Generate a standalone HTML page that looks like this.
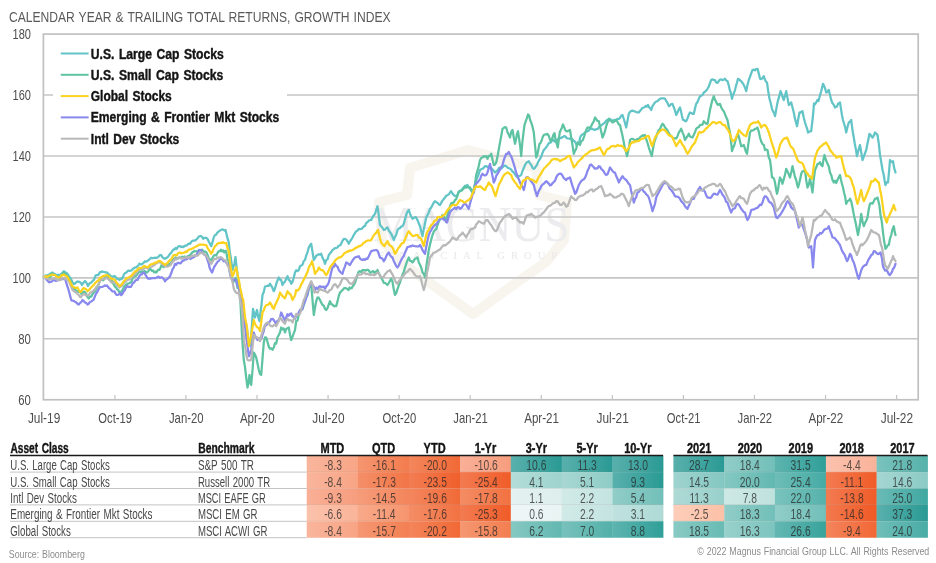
<!DOCTYPE html>
<html lang="en"><head><meta charset="utf-8"><title>Calendar Year &amp; Trailing Total Returns, Growth Index</title><style>html,body{margin:0;padding:0;background:#fff}svg{display:block;will-change:transform}</style></head><body>
<svg width="936" height="563" viewBox="0 0 936 563" font-family="&quot;Liberation Sans&quot;, sans-serif">
<rect width="936" height="563" fill="#fff"/>
<text x="8.90" y="21.50" font-size="14.5" fill="#5a5a5c" text-anchor="start" textLength="381.70" lengthAdjust="spacingAndGlyphs" word-spacing="0.8">CALENDAR YEAR &amp; TRAILING TOTAL RETURNS, GROWTH INDEX</text>
<g>
<path d="M468 150 L410 168 L407 195 L379 202 L382 240 L400 262 L430 283 L473 314 L516 283 L546 262 L564 240 L567 202 L539 195 L536 168 Z" fill="none" stroke="#f8f5ef" stroke-width="10" stroke-linejoin="round"/>
<text x="372.5" y="240.5" font-family="&quot;Liberation Serif&quot;, serif" font-size="50" fill="#ecebee" textLength="197" lengthAdjust="spacingAndGlyphs">MAGNUS</text>
<text x="378" y="259.3" font-family="&quot;Liberation Serif&quot;, serif" font-size="10.6" fill="#eae8ea" letter-spacing="6">FINANCIAL GROUP</text>
</g>
<line x1="43.4" x2="918.2" y1="338.81" y2="338.81" stroke="#c6c6c6" stroke-width="1.6"/>
<line x1="43.4" x2="918.2" y1="277.87" y2="277.87" stroke="#c6c6c6" stroke-width="1.6"/>
<line x1="43.4" x2="918.2" y1="216.93" y2="216.93" stroke="#c6c6c6" stroke-width="1.6"/>
<line x1="43.4" x2="918.2" y1="155.98" y2="155.98" stroke="#c6c6c6" stroke-width="1.6"/>
<line x1="43.4" x2="918.2" y1="95.04" y2="95.04" stroke="#c6c6c6" stroke-width="1.6"/>
<rect x="53" y="41" width="234" height="110" fill="#fff"/>
<path d="M43.8 276.2 L44.8 276.0 L45.9 275.4 L47.0 275.8 L48.1 275.0 L49.2 274.6 L50.3 273.5 L51.4 273.2 L52.5 272.5 L53.8 273.7 L55.0 274.1 L56.2 275.2 L57.5 275.5 L58.5 274.7 L59.6 275.1 L60.6 274.5 L61.7 273.8 L62.7 272.5 L63.8 271.2 L65.0 272.2 L66.2 272.7 L67.5 273.8 L68.5 275.5 L69.5 276.9 L70.5 278.2 L71.5 280.0 L72.6 282.4 L73.8 284.0 L75.0 283.6 L76.2 282.2 L77.5 281.5 L78.6 281.6 L79.8 282.2 L80.9 282.9 L82.0 285.0 L83.0 283.2 L84.0 282.0 L85.0 281.0 L86.0 282.2 L87.0 283.8 L88.0 286.0 L89.2 283.8 L90.3 282.8 L91.5 282.5 L92.6 280.8 L93.8 280.0 L94.6 278.4 L95.5 275.5 L96.6 275.2 L97.8 275.2 L98.9 274.1 L100.0 272.0 L101.1 272.0 L102.1 271.3 L103.2 271.9 L104.3 272.0 L105.4 272.3 L106.4 272.3 L107.5 273.0 L108.6 274.4 L109.6 274.7 L110.7 276.1 L111.8 276.5 L112.9 276.7 L113.9 276.1 L115.0 276.2 L116.1 277.7 L117.2 279.2 L118.4 279.1 L119.5 280.0 L120.6 278.7 L121.7 279.0 L122.8 277.4 L123.9 274.7 L125.0 273.0 L126.1 272.8 L127.2 271.5 L128.3 270.7 L129.4 270.9 L130.6 270.6 L131.7 270.3 L132.8 268.8 L133.9 268.3 L135.0 267.5 L136.1 267.3 L137.2 266.5 L138.3 265.5 L139.4 263.6 L140.6 264.3 L141.7 264.3 L142.8 263.6 L143.9 262.4 L145.0 261.2 L146.2 261.6 L147.5 260.9 L148.8 259.9 L150.0 258.8 L151.1 257.7 L152.1 258.2 L153.2 258.1 L154.3 257.9 L155.4 257.7 L156.4 257.9 L157.5 257.5 L158.8 256.3 L160.0 255.0 L161.2 255.1 L162.5 257.4 L163.8 258.4 L165.0 258.8 L166.2 258.0 L167.5 257.3 L168.8 255.6 L170.0 253.8 L171.1 252.9 L172.2 251.2 L173.3 249.5 L174.4 249.7 L175.6 248.0 L176.7 249.0 L177.8 247.0 L178.9 246.1 L180.0 246.2 L181.1 247.0 L182.2 246.6 L183.3 247.2 L184.4 246.1 L185.6 245.6 L186.7 245.5 L187.8 244.2 L188.9 243.7 L190.0 243.8 L191.1 242.1 L192.2 240.9 L193.3 240.6 L194.4 240.6 L195.6 240.1 L196.7 239.2 L197.8 237.9 L198.9 236.5 L200.0 236.2 L201.1 236.2 L202.1 236.9 L203.2 238.8 L204.3 237.9 L205.4 237.8 L206.4 237.9 L207.5 238.8 L208.8 241.7 L210.0 243.8 L211.2 246.2 L212.5 242.2 L213.8 237.3 L215.0 235.0 L216.2 234.6 L217.5 232.4 L218.8 231.5 L220.0 230.5 L221.1 229.9 L222.2 229.4 L223.3 229.5 L224.4 230.5 L225.5 230.0 L226.6 234.4 L227.7 238.9 L228.8 242.5 L229.8 252.1 L230.8 257.5 L231.6 263.7 L232.5 270.0 L233.5 266.6 L234.5 263.3 L235.5 257.0 L236.5 266.8 L237.5 273.8 L238.0 280.0 L239.1 283.3 L240.2 290.3 L241.4 296.4 L242.5 302.5 L243.5 310.5 L244.5 320.0 L245.5 321.8 L246.5 325.5 L247.6 333.8 L248.8 342.5 L249.6 343.0 L250.5 346.2 L251.8 326.9 L253.0 308.8 L254.0 312.9 L255.0 317.5 L256.0 313.3 L257.0 310.0 L258.2 317.0 L259.5 321.2 L260.5 312.4 L261.5 304.6 L262.5 295.0 L263.8 292.0 L265.0 286.6 L266.2 286.2 L267.5 285.7 L268.8 286.0 L270.0 283.8 L271.2 285.6 L272.5 288.1 L273.8 291.2 L275.0 288.3 L276.2 284.2 L277.5 280.4 L278.8 277.5 L280.0 279.6 L281.2 280.1 L282.5 285.0 L283.8 282.6 L285.0 281.6 L286.2 278.7 L287.5 276.2 L288.8 280.1 L290.0 280.5 L291.2 283.8 L292.5 281.8 L293.8 277.5 L295.0 272.5 L296.2 270.3 L297.5 271.2 L298.8 270.0 L300.0 266.2 L301.2 265.6 L302.5 264.7 L303.8 261.0 L305.0 260.0 L306.2 255.6 L307.5 252.1 L308.8 247.5 L310.0 245.2 L311.2 243.8 L312.5 251.8 L313.8 260.0 L315.0 258.2 L316.2 255.8 L317.5 255.0 L318.8 254.2 L320.0 254.6 L321.2 253.8 L322.5 257.8 L323.8 260.1 L325.0 263.8 L326.2 260.1 L327.5 259.3 L328.8 255.0 L330.0 253.4 L331.2 252.1 L332.5 250.0 L333.8 249.1 L335.0 248.1 L336.2 248.0 L337.5 247.5 L338.5 245.9 L339.6 245.5 L340.6 244.9 L341.7 242.6 L342.7 240.6 L343.8 238.8 L345.0 238.9 L346.2 239.6 L347.5 241.3 L348.8 243.8 L350.0 241.3 L351.2 239.7 L352.5 237.5 L353.8 235.0 L355.0 233.0 L356.2 231.3 L357.5 230.6 L358.8 228.8 L359.8 229.2 L360.8 229.0 L361.9 228.6 L362.9 227.7 L364.0 226.1 L365.0 226.2 L366.0 223.3 L367.1 222.3 L368.1 221.6 L369.2 220.3 L370.2 220.2 L371.2 220.0 L372.5 217.2 L373.8 215.4 L375.0 213.8 L376.2 210.0 L377.5 206.2 L378.8 215.6 L380.0 225.0 L381.2 226.3 L382.5 227.9 L383.8 230.0 L385.0 229.6 L386.2 228.1 L387.5 227.5 L388.8 230.5 L390.0 232.1 L391.2 233.8 L392.5 236.7 L393.8 240.0 L395.0 236.9 L396.2 234.8 L397.5 230.0 L398.8 228.6 L400.0 228.0 L401.2 226.6 L402.5 226.2 L403.8 223.7 L405.0 219.2 L406.2 215.0 L407.5 211.7 L408.8 210.0 L410.0 213.7 L411.2 216.5 L412.5 218.8 L413.8 217.9 L415.0 217.2 L416.2 217.5 L417.5 220.2 L418.8 223.4 L420.0 226.2 L421.2 231.0 L422.5 236.2 L423.8 228.9 L425.0 223.4 L426.2 217.5 L427.5 215.1 L428.8 212.4 L430.0 208.8 L431.2 207.6 L432.5 205.0 L433.8 202.5 L435.0 201.2 L436.2 202.2 L437.5 202.8 L438.8 204.4 L440.0 205.0 L441.2 202.9 L442.5 200.6 L443.8 199.0 L445.0 197.5 L446.2 195.8 L447.5 195.2 L448.8 194.3 L450.0 192.5 L451.0 191.2 L452.1 192.8 L453.1 194.3 L454.2 195.5 L455.2 195.8 L456.2 196.2 L457.3 195.9 L458.3 192.5 L459.4 191.0 L460.4 190.5 L461.5 190.2 L462.5 188.8 L463.8 187.3 L465.0 185.9 L466.2 185.7 L467.5 185.0 L468.8 187.2 L470.0 188.6 L471.2 190.7 L472.5 192.5 L473.8 188.5 L475.0 184.2 L476.2 180.0 L477.5 177.1 L478.8 173.9 L480.0 170.0 L481.2 169.3 L482.5 168.8 L483.8 167.6 L485.0 166.2 L486.2 166.1 L487.5 167.1 L488.8 166.6 L490.0 167.5 L491.2 168.0 L492.5 169.5 L493.8 171.0 L495.0 172.5 L496.2 171.5 L497.5 170.5 L498.8 168.3 L500.0 167.5 L501.0 168.5 L502.1 167.8 L503.1 166.7 L504.2 165.6 L505.2 165.7 L506.2 166.2 L507.5 167.6 L508.8 168.1 L510.0 168.8 L511.2 169.6 L512.5 171.5 L513.8 172.5 L515.0 174.3 L516.2 176.0 L517.5 177.5 L518.8 176.1 L520.0 175.7 L521.2 175.0 L522.5 171.0 L523.8 168.0 L525.0 165.0 L526.2 163.0 L527.5 161.9 L528.8 161.2 L530.0 163.5 L531.2 164.8 L532.5 167.8 L533.8 168.8 L534.9 167.9 L536.0 166.2 L537.0 164.9 L538.1 162.0 L539.2 160.2 L540.4 158.3 L541.5 156.0 L542.6 152.7 L543.8 150.0 L544.9 148.9 L546.0 147.5 L547.2 145.9 L548.4 143.9 L549.5 142.5 L550.8 142.5 L552.0 140.7 L553.2 139.8 L554.3 141.2 L555.4 141.7 L556.4 141.4 L557.5 139.5 L558.7 138.4 L559.9 138.1 L561.1 138.2 L562.2 137.2 L563.3 136.7 L564.4 136.1 L565.5 136.5 L566.6 138.0 L567.7 138.4 L568.8 138.5 L570.0 138.9 L571.2 138.3 L572.5 139.5 L573.5 140.9 L574.5 141.1 L575.5 142.6 L576.5 145.0 L577.5 143.7 L578.5 142.4 L579.5 141.5 L580.0 137.5 L581.2 135.5 L582.5 134.4 L583.8 133.6 L585.0 132.5 L586.2 131.3 L587.5 131.3 L588.8 130.6 L590.0 128.8 L591.2 128.6 L592.5 128.9 L593.8 129.7 L595.0 130.0 L596.2 129.0 L597.5 129.2 L598.8 127.4 L600.0 126.2 L601.2 125.3 L602.5 124.3 L603.8 123.4 L605.0 122.5 L606.2 120.5 L607.5 120.1 L608.8 118.8 L610.0 119.1 L611.2 119.8 L612.5 121.2 L613.8 120.2 L615.0 119.9 L616.2 120.2 L617.5 118.8 L618.8 119.0 L620.0 117.9 L621.2 115.7 L622.5 115.0 L623.8 119.0 L625.0 123.0 L626.2 127.5 L627.5 120.9 L628.8 113.8 L630.0 111.9 L631.2 111.0 L632.5 110.6 L633.8 111.2 L635.0 111.5 L636.2 112.1 L637.5 112.3 L638.8 112.5 L640.0 110.9 L641.2 109.5 L642.5 107.9 L643.8 107.5 L644.8 107.0 L645.9 105.8 L646.9 106.5 L648.0 105.0 L649.1 107.2 L650.2 108.3 L651.2 110.0 L652.5 106.2 L653.8 104.1 L655.0 102.5 L656.2 101.5 L657.5 101.2 L658.8 99.8 L660.0 98.8 L661.2 98.4 L662.5 98.3 L663.8 98.3 L665.0 98.8 L666.2 100.9 L667.5 102.9 L668.8 106.2 L670.0 105.4 L671.2 104.0 L672.5 103.8 L673.8 107.4 L675.0 110.6 L676.2 115.0 L677.5 112.5 L678.8 109.4 L680.0 107.5 L681.0 111.4 L682.0 116.1 L683.0 120.0 L684.1 120.1 L685.2 121.2 L686.2 121.2 L687.5 118.4 L688.8 114.8 L690.0 112.5 L691.2 113.1 L692.5 113.8 L693.8 113.8 L695.0 108.4 L696.2 103.8 L697.5 102.0 L698.8 98.9 L700.0 96.2 L701.2 95.8 L702.5 95.0 L703.8 92.5 L705.0 91.7 L706.2 90.7 L707.5 88.8 L708.8 86.5 L710.0 83.2 L711.2 80.0 L712.5 79.3 L713.8 80.0 L715.0 80.2 L716.2 82.5 L717.5 82.9 L718.8 81.0 L720.0 79.5 L721.2 79.4 L722.5 80.2 L723.8 79.6 L725.0 78.8 L726.2 80.4 L727.5 81.2 L728.5 84.5 L729.5 88.8 L730.8 92.8 L732.0 98.8 L733.0 95.3 L734.0 93.0 L735.0 90.0 L736.0 85.9 L737.0 82.6 L738.0 78.8 L739.1 79.4 L740.2 80.5 L741.2 81.2 L742.5 82.9 L743.8 85.0 L745.0 87.6 L746.2 91.2 L747.5 85.0 L748.8 80.0 L750.0 76.8 L751.2 73.4 L752.5 70.0 L753.8 69.6 L755.0 70.4 L756.2 69.1 L757.5 68.8 L758.8 73.6 L760.0 78.8 L761.2 79.2 L762.5 78.1 L763.8 76.2 L764.8 79.2 L765.9 81.6 L767.0 82.5 L768.2 91.1 L769.5 98.8 L770.8 103.5 L772.0 108.8 L773.0 111.4 L774.0 112.8 L775.0 116.2 L776.2 109.5 L777.5 102.5 L778.5 98.6 L779.5 95.3 L780.5 91.2 L781.6 93.8 L782.7 97.4 L783.8 100.0 L785.0 95.5 L786.2 91.2 L787.5 97.9 L788.8 105.0 L790.0 104.1 L791.2 102.5 L792.5 107.5 L793.8 112.5 L794.8 118.1 L795.9 121.9 L797.0 126.2 L798.2 119.2 L799.5 112.5 L800.5 112.6 L801.5 111.6 L802.5 111.2 L803.8 117.8 L805.0 122.5 L806.0 125.6 L807.0 128.3 L808.0 132.5 L809.1 131.9 L810.2 131.3 L811.2 131.2 L812.8 117.5 L814.0 103.5 L815.1 104.2 L816.2 102.4 L817.4 100.0 L818.5 101.0 L819.9 95.6 L821.2 91.2 L822.1 87.5 L823.0 83.8 L824.1 86.0 L825.2 88.7 L826.2 92.5 L827.5 91.9 L828.8 90.0 L830.0 95.1 L831.2 100.0 L832.5 103.3 L833.8 104.9 L835.0 107.5 L836.0 106.7 L837.0 106.6 L838.0 103.8 L839.0 103.2 L840.0 102.5 L841.0 108.9 L842.0 115.4 L843.0 120.0 L844.1 123.7 L845.2 127.5 L846.2 132.5 L847.5 126.9 L848.8 122.5 L850.0 121.6 L851.2 120.0 L852.5 130.3 L853.8 137.5 L854.8 144.0 L855.9 149.4 L857.0 156.2 L858.0 152.1 L859.0 148.3 L860.0 145.0 L861.2 152.1 L862.5 160.0 L863.8 156.7 L865.0 153.3 L866.2 150.0 L867.3 144.5 L868.4 139.2 L869.5 133.8 L870.5 135.1 L871.5 136.1 L872.5 137.5 L873.8 135.6 L875.0 132.5 L876.2 133.5 L877.5 135.0 L878.8 143.6 L880.0 155.0 L881.2 161.7 L882.5 170.0 L883.8 175.0 L884.6 180.7 L885.5 185.0 L886.8 182.1 L888.0 182.5 L889.0 172.2 L890.0 160.0 L891.0 161.5 L892.0 162.0 L893.0 161.2 L894.2 168.1 L895.5 172.5" fill="none" stroke="#62c4c6" stroke-width="2.25" stroke-linejoin="round" stroke-linecap="round"/>
<path d="M43.8 277.0 L44.8 276.8 L45.9 277.1 L47.0 278.3 L48.1 277.9 L49.2 278.0 L50.3 276.5 L51.4 275.4 L52.5 273.8 L53.8 274.8 L55.0 275.0 L56.2 275.9 L57.5 277.0 L58.5 277.0 L59.6 277.7 L60.6 276.3 L61.7 274.8 L62.7 274.0 L63.8 273.0 L65.0 273.5 L66.2 275.3 L67.5 276.2 L68.8 278.0 L70.0 280.0 L71.2 284.4 L72.5 287.5 L73.8 288.9 L75.0 289.4 L76.2 290.7 L77.5 291.2 L78.8 291.9 L80.0 291.3 L81.2 293.8 L82.5 292.7 L83.8 291.7 L85.0 292.0 L86.2 294.1 L87.5 297.0 L88.8 298.5 L90.0 296.6 L91.2 296.6 L92.5 294.2 L93.8 292.5 L94.9 291.2 L96.0 289.3 L97.1 287.2 L98.2 286.0 L99.5 281.2 L100.8 279.0 L101.9 279.7 L103.1 280.3 L104.3 279.2 L105.5 277.0 L106.7 276.9 L107.8 277.3 L109.0 279.1 L110.2 280.3 L111.3 280.7 L112.5 281.2 L113.7 284.5 L114.8 286.3 L116.0 287.4 L117.2 289.3 L118.3 290.2 L119.5 292.5 L120.5 291.8 L121.5 292.1 L122.5 290.0 L123.8 287.6 L125.0 285.4 L126.2 284.8 L127.5 283.8 L128.6 283.4 L129.6 283.0 L130.7 282.4 L131.8 281.1 L132.9 277.4 L133.9 277.1 L135.0 276.2 L136.1 275.8 L137.1 274.6 L138.2 273.1 L139.3 271.1 L140.4 271.9 L141.4 272.2 L142.5 271.2 L143.6 272.3 L144.6 271.0 L145.7 271.9 L146.8 272.5 L147.9 271.7 L148.9 270.3 L150.0 268.8 L151.0 269.7 L152.1 271.0 L153.1 270.5 L154.2 272.3 L155.2 271.7 L156.2 272.5 L157.3 271.0 L158.3 269.6 L159.4 269.9 L160.4 268.0 L161.5 265.1 L162.5 266.2 L163.6 267.1 L164.6 266.1 L165.7 265.4 L166.8 265.2 L167.9 264.9 L168.9 263.8 L170.0 263.8 L171.1 262.5 L172.2 261.3 L173.3 258.9 L174.4 259.1 L175.6 257.4 L176.7 258.8 L177.8 258.6 L178.9 257.5 L180.0 257.5 L181.1 257.7 L182.2 256.6 L183.3 257.5 L184.4 256.5 L185.6 256.9 L186.7 257.6 L187.8 256.0 L188.9 255.8 L190.0 255.0 L191.1 254.0 L192.2 252.5 L193.3 251.8 L194.4 251.0 L195.6 251.3 L196.7 251.4 L197.8 251.3 L198.9 249.9 L200.0 250.0 L201.1 250.0 L202.1 249.7 L203.2 251.1 L204.3 251.6 L205.4 251.7 L206.4 252.4 L207.5 255.0 L208.8 258.3 L210.0 259.7 L211.2 260.0 L212.5 258.2 L213.8 255.5 L215.0 255.0 L216.2 255.5 L217.5 252.9 L218.8 251.2 L220.0 251.2 L221.0 249.7 L222.1 251.4 L223.1 250.4 L224.2 252.5 L225.2 250.9 L226.2 251.2 L227.5 259.3 L228.8 261.2 L230.0 269.7 L231.2 275.0 L232.5 281.2 L233.5 282.1 L234.5 280.4 L235.5 278.0 L236.5 282.0 L237.5 288.0 L238.8 288.1 L240.0 293.0 L241.0 313.9 L242.0 335.0 L242.9 348.4 L243.8 360.0 L245.0 367.0 L246.2 377.5 L247.5 387.5 L248.5 382.8 L249.5 375.0 L250.4 382.6 L251.2 385.0 L252.5 370.5 L253.8 352.5 L255.0 354.6 L256.2 357.5 L257.5 363.5 L258.8 370.0 L260.0 373.9 L261.2 375.0 L262.5 358.6 L263.8 342.5 L265.0 337.3 L266.2 337.5 L267.5 342.0 L268.8 346.6 L270.0 348.8 L271.2 348.3 L272.5 349.8 L273.8 347.5 L275.0 343.1 L276.2 343.7 L277.5 337.3 L278.8 335.0 L280.0 332.6 L281.2 327.5 L282.5 329.3 L283.8 328.5 L285.0 332.5 L286.2 328.9 L287.5 328.3 L288.8 327.5 L290.0 334.5 L291.2 340.0 L292.5 336.9 L293.8 333.1 L295.0 330.0 L296.2 321.0 L297.5 320.6 L298.8 315.0 L300.0 311.7 L301.2 310.3 L302.5 308.9 L303.8 305.0 L305.0 300.7 L306.2 297.7 L307.5 295.0 L308.8 288.6 L310.0 286.0 L311.2 283.8 L312.5 299.9 L313.8 315.0 L315.0 307.7 L316.2 301.2 L317.5 297.5 L318.8 297.7 L320.0 300.1 L321.2 302.5 L322.5 305.0 L323.8 305.7 L325.0 308.9 L326.2 310.0 L327.5 308.2 L328.8 304.4 L330.0 301.2 L331.0 304.0 L332.1 304.3 L333.1 305.4 L334.2 306.4 L335.2 305.8 L336.2 306.2 L337.5 301.4 L338.8 295.8 L340.0 292.5 L341.1 291.7 L342.1 290.3 L343.2 289.3 L344.3 288.0 L345.4 288.0 L346.4 288.6 L347.5 288.8 L348.5 290.1 L349.6 287.5 L350.6 288.4 L351.7 288.2 L352.7 286.3 L353.8 285.0 L355.0 282.9 L356.2 279.1 L357.5 275.0 L358.8 271.5 L360.0 271.2 L361.2 272.2 L362.5 270.0 L363.6 270.2 L364.6 270.1 L365.7 270.7 L366.8 269.8 L367.9 269.8 L368.9 270.7 L370.0 272.5 L371.1 272.5 L372.1 271.5 L373.2 271.1 L374.3 272.7 L375.4 271.7 L376.4 272.5 L377.5 270.0 L378.8 273.3 L380.0 275.5 L381.2 277.4 L382.5 280.0 L383.8 282.8 L385.0 283.0 L386.2 283.7 L387.5 285.0 L388.8 283.0 L390.0 280.7 L391.2 278.8 L392.5 281.8 L393.8 289.6 L395.0 295.0 L396.2 293.2 L397.5 289.1 L398.8 285.3 L400.0 282.5 L401.2 278.7 L402.5 274.5 L403.8 271.9 L405.0 267.5 L406.2 263.8 L407.5 260.2 L408.8 257.5 L410.0 260.8 L411.2 261.0 L412.5 262.5 L413.8 260.8 L415.0 258.6 L416.2 258.5 L417.5 257.5 L418.8 262.5 L420.0 264.8 L421.2 267.5 L422.5 272.4 L423.8 274.0 L425.0 277.5 L426.2 267.6 L427.5 258.5 L428.8 250.0 L430.0 244.4 L431.2 239.7 L432.5 235.0 L433.8 231.6 L435.0 229.9 L436.2 229.2 L437.5 225.0 L438.8 221.5 L440.0 219.4 L441.2 217.4 L442.5 215.0 L443.8 216.4 L445.0 219.4 L446.2 220.0 L447.5 214.8 L448.8 210.3 L450.0 206.2 L451.2 203.4 L452.5 202.9 L453.8 202.4 L455.0 200.0 L456.2 199.1 L457.5 194.9 L458.8 192.0 L460.0 191.2 L461.2 190.8 L462.5 189.8 L463.8 188.4 L465.0 186.2 L466.2 187.7 L467.5 187.0 L468.8 187.6 L470.0 187.5 L471.2 189.6 L472.5 190.8 L473.8 192.5 L475.0 184.0 L476.2 175.0 L477.5 170.7 L478.8 165.8 L480.0 160.0 L481.2 158.2 L482.5 157.3 L483.8 156.2 L485.0 156.7 L486.2 156.1 L487.5 158.8 L488.8 155.8 L490.0 155.9 L491.2 153.8 L492.5 159.4 L493.8 165.0 L495.0 164.6 L496.2 162.5 L497.5 156.6 L498.8 149.4 L500.0 142.5 L501.2 136.2 L502.5 128.8 L503.8 127.8 L505.0 127.1 L506.2 127.5 L507.5 132.3 L508.8 134.8 L510.0 137.5 L511.2 131.8 L512.5 130.0 L513.8 137.5 L515.0 143.8 L516.0 139.4 L517.0 133.8 L518.0 131.2 L519.1 138.8 L520.2 146.4 L521.2 156.2 L522.3 142.8 L523.4 133.4 L524.5 125.0 L525.7 121.4 L526.8 118.3 L528.0 114.5 L529.1 115.6 L530.2 120.2 L531.2 122.5 L532.5 126.7 L533.8 132.5 L535.0 145.3 L536.2 157.5 L537.3 154.7 L538.4 149.5 L539.5 143.8 L540.6 142.9 L541.6 140.7 L542.7 137.0 L543.8 135.0 L545.0 134.4 L546.2 134.5 L547.5 133.8 L548.8 135.8 L550.0 139.8 L551.2 141.2 L552.3 138.2 L553.4 134.9 L554.5 133.2 L555.6 140.0 L556.7 143.8 L557.8 147.5 L558.8 139.5 L559.8 132.0 L560.8 130.0 L561.9 127.6 L563.0 124.5 L564.1 127.2 L565.2 129.9 L566.2 131.2 L567.5 131.3 L568.8 130.6 L570.0 130.0 L571.2 137.5 L572.5 145.3 L573.8 153.8 L575.0 150.9 L576.2 148.7 L577.5 142.5 L578.8 144.0 L580.0 145.0 L581.2 141.2 L582.5 140.6 L583.8 137.5 L585.0 133.9 L586.2 130.0 L587.5 127.5 L588.8 127.6 L590.0 127.9 L591.2 126.2 L592.5 123.3 L593.8 121.3 L595.0 117.5 L596.2 119.2 L597.5 121.0 L598.8 121.2 L600.0 126.4 L601.2 131.5 L602.5 137.5 L603.8 134.6 L605.0 131.2 L606.2 126.2 L607.5 122.6 L608.8 118.8 L610.0 120.5 L611.2 121.0 L612.5 122.5 L613.8 121.8 L615.0 120.9 L616.2 120.0 L617.5 122.0 L618.8 124.4 L620.0 125.0 L621.2 130.3 L622.5 135.8 L623.8 142.5 L624.8 148.1 L625.9 151.5 L627.0 156.2 L628.0 151.9 L629.0 147.3 L630.0 140.0 L631.2 139.0 L632.5 138.8 L633.8 139.5 L635.0 140.0 L636.2 140.0 L637.5 139.0 L638.8 139.0 L640.0 137.5 L641.2 136.3 L642.5 135.4 L643.8 135.8 L645.0 135.0 L646.2 139.1 L647.5 142.8 L648.8 147.5 L649.8 150.6 L650.8 153.4 L651.8 156.2 L652.8 149.8 L653.9 143.6 L655.0 140.0 L656.2 136.9 L657.5 133.0 L658.8 130.0 L660.0 129.1 L661.2 126.0 L662.5 123.8 L663.8 125.1 L665.0 127.5 L666.2 128.8 L667.5 130.5 L668.8 133.2 L670.0 135.0 L671.2 136.1 L672.5 137.5 L673.8 138.8 L675.0 138.2 L676.2 138.5 L677.5 136.2 L678.8 132.5 L680.0 130.8 L681.2 128.8 L682.5 132.4 L683.8 135.4 L685.0 140.0 L686.2 138.0 L687.5 136.2 L688.8 133.8 L690.0 136.5 L691.2 137.0 L692.5 137.5 L693.8 134.8 L695.0 132.1 L696.2 128.8 L697.5 127.5 L698.8 127.1 L700.0 125.0 L701.2 124.8 L702.5 124.6 L703.8 121.2 L705.0 122.6 L706.2 123.6 L707.5 123.8 L708.8 116.9 L710.0 110.0 L711.2 104.7 L712.5 99.6 L713.8 96.2 L714.8 99.4 L715.9 101.3 L717.0 103.8 L718.0 104.9 L719.0 104.2 L720.0 103.8 L721.2 107.2 L722.5 109.7 L723.8 111.2 L725.0 114.2 L726.2 117.3 L727.5 120.0 L728.8 127.2 L730.0 132.5 L731.0 141.5 L732.0 151.2 L733.0 148.0 L734.0 146.1 L735.0 142.5 L736.0 138.8 L737.0 136.6 L738.0 133.8 L739.1 137.5 L740.2 142.2 L741.2 146.2 L742.5 145.9 L743.8 145.0 L744.8 148.2 L745.9 151.6 L747.0 153.8 L748.0 146.3 L749.0 139.6 L750.0 132.5 L751.2 130.5 L752.5 130.6 L753.8 130.0 L755.0 128.8 L756.2 128.6 L757.5 127.5 L758.8 131.8 L760.0 137.5 L761.2 141.5 L762.5 144.1 L763.8 145.0 L765.0 150.1 L766.2 149.5 L767.5 150.0 L768.8 157.5 L770.0 160.0 L771.0 167.6 L772.0 177.5 L773.0 177.6 L774.0 178.7 L775.0 182.5 L776.0 188.9 L777.0 193.8 L778.0 189.8 L779.0 182.5 L780.0 177.5 L781.2 179.6 L782.5 183.8 L783.8 179.1 L785.0 174.9 L786.2 168.8 L787.5 171.5 L788.8 174.3 L790.0 177.5 L791.2 172.5 L792.5 166.2 L793.8 171.7 L795.0 177.0 L796.2 180.0 L797.1 184.4 L798.0 187.5 L799.1 183.6 L800.2 179.1 L801.2 173.8 L802.5 171.4 L803.8 171.0 L805.0 170.0 L806.2 180.1 L807.5 187.5 L808.8 184.4 L810.0 178.8 L811.2 184.8 L812.5 192.5 L813.8 178.9 L815.0 170.0 L816.2 167.6 L817.5 163.9 L818.8 163.8 L820.0 162.2 L821.2 165.1 L822.5 166.2 L823.5 159.2 L824.5 155.0 L825.6 159.2 L826.7 161.8 L827.8 164.3 L828.9 166.8 L830.0 172.5 L831.2 174.9 L832.5 180.0 L833.8 182.5 L835.0 180.6 L836.2 183.1 L837.5 180.0 L838.8 177.3 L840.0 175.0 L841.0 179.8 L842.0 184.0 L843.0 187.5 L844.1 192.7 L845.2 197.1 L846.2 203.8 L847.5 201.2 L848.8 200.6 L850.0 198.8 L851.2 201.2 L852.5 207.5 L853.8 214.4 L855.0 220.0 L856.0 224.5 L857.0 230.0 L858.0 235.0 L859.1 229.1 L860.2 222.5 L861.2 213.8 L862.5 221.2 L863.8 226.2 L865.0 223.0 L866.2 220.8 L867.5 217.5 L868.8 209.0 L870.0 203.8 L871.2 203.1 L872.5 203.6 L873.8 201.2 L875.0 198.6 L876.2 198.7 L877.5 197.5 L878.5 201.6 L879.5 206.1 L880.5 215.0 L881.8 221.6 L883.0 232.5 L884.2 241.6 L885.5 248.8 L886.6 247.6 L887.7 245.3 L888.8 245.0 L890.0 238.6 L891.2 235.0 L892.5 229.5 L893.8 226.2 L894.6 230.9 L895.5 235.0" fill="none" stroke="#5ec3a2" stroke-width="2.25" stroke-linejoin="round" stroke-linecap="round"/>
<path d="M43.8 278.0 L44.8 278.1 L45.8 278.0 L46.9 280.1 L47.9 281.0 L49.0 282.3 L50.0 282.0 L51.1 281.8 L52.1 281.2 L53.2 280.3 L54.3 279.4 L55.4 280.8 L56.4 280.9 L57.5 280.0 L58.6 280.1 L59.6 279.7 L60.7 279.1 L61.8 278.8 L62.9 279.1 L63.9 278.1 L65.0 278.8 L66.0 281.8 L67.1 285.3 L68.1 288.4 L69.2 292.2 L70.2 296.1 L71.2 300.0 L72.3 300.7 L73.4 300.7 L74.5 301.4 L75.5 301.9 L76.6 302.8 L77.7 304.1 L78.8 304.5 L80.0 302.9 L81.2 302.2 L82.5 300.0 L83.8 301.1 L85.0 302.5 L86.2 302.9 L87.5 304.5 L88.5 304.0 L89.6 302.4 L90.6 301.7 L91.7 301.3 L92.7 300.3 L93.8 299.5 L95.0 296.1 L96.2 293.4 L97.5 291.5 L98.8 288.8 L100.0 287.0 L101.2 287.0 L102.5 286.8 L103.8 286.2 L104.8 285.5 L105.9 285.9 L107.0 285.4 L108.0 286.8 L109.1 288.2 L110.2 289.0 L111.2 290.0 L112.3 291.4 L113.3 291.5 L114.4 291.3 L115.4 293.4 L116.5 294.9 L117.5 295.0 L118.8 294.5 L120.0 293.2 L121.2 295.1 L122.5 293.8 L123.8 291.3 L125.0 289.9 L126.2 287.3 L127.5 286.2 L128.6 287.0 L129.7 286.9 L130.8 286.8 L131.9 285.0 L133.1 282.9 L134.2 282.4 L135.3 280.7 L136.4 279.9 L137.5 280.0 L138.5 277.8 L139.6 275.9 L140.6 274.4 L141.7 274.5 L142.7 273.1 L143.8 272.5 L144.8 273.7 L145.8 275.3 L146.9 277.3 L147.9 278.6 L149.0 278.3 L150.0 278.8 L151.1 278.4 L152.1 278.2 L153.2 278.1 L154.3 278.0 L155.4 278.2 L156.4 277.8 L157.5 277.0 L158.6 276.7 L159.6 277.9 L160.7 277.5 L161.8 277.2 L162.9 278.3 L163.9 279.3 L165.0 281.2 L166.2 279.8 L167.5 278.8 L168.8 277.7 L170.0 276.2 L171.2 273.3 L172.5 269.4 L173.8 267.3 L175.0 263.8 L176.1 265.0 L177.2 263.3 L178.3 262.7 L179.4 263.1 L180.6 263.4 L181.7 261.8 L182.8 260.5 L183.9 260.5 L185.0 258.8 L186.1 259.6 L187.1 259.1 L188.2 257.9 L189.3 258.0 L190.4 259.0 L191.4 258.2 L192.5 257.5 L193.6 257.3 L194.6 256.5 L195.7 255.5 L196.8 254.5 L197.9 252.3 L198.9 250.9 L200.0 250.0 L201.0 250.3 L202.1 251.9 L203.1 253.1 L204.2 254.7 L205.2 255.0 L206.2 256.2 L207.4 259.8 L208.6 263.1 L209.7 268.0 L210.8 270.2 L212.0 272.5 L213.1 270.0 L214.1 267.0 L215.2 265.5 L216.2 263.8 L217.5 261.8 L218.8 260.9 L220.0 259.2 L221.2 258.8 L222.5 259.6 L223.8 261.3 L225.0 260.9 L226.2 262.5 L227.5 264.1 L228.8 265.1 L230.0 273.8 L231.2 278.0 L232.5 280.0 L233.8 279.8 L235.0 279.5 L236.2 280.5 L237.3 284.9 L238.4 286.5 L239.5 290.0 L240.7 294.3 L241.8 300.4 L243.0 307.5 L244.2 319.6 L245.5 330.0 L246.6 339.6 L247.7 347.6 L248.8 356.2 L250.0 353.4 L251.2 350.0 L252.5 342.6 L253.8 332.5 L255.0 336.0 L256.2 337.2 L257.5 340.0 L258.8 338.2 L260.0 338.1 L261.2 338.8 L262.5 334.7 L263.8 330.8 L265.0 325.0 L266.2 325.4 L267.5 323.1 L268.8 322.5 L270.0 321.5 L271.2 319.1 L272.5 318.8 L273.8 320.1 L275.0 322.1 L276.2 323.8 L277.5 320.6 L278.8 320.6 L280.0 317.1 L281.2 312.5 L282.5 315.4 L283.8 318.2 L285.0 320.7 L286.2 317.5 L287.5 314.2 L288.8 315.7 L290.0 313.8 L291.2 313.5 L292.5 316.5 L293.8 316.4 L295.0 318.8 L296.2 315.8 L297.5 315.1 L298.8 312.5 L300.0 309.9 L301.2 310.2 L302.5 308.8 L303.8 303.6 L305.0 301.8 L306.2 297.5 L307.5 293.8 L308.8 288.4 L310.0 285.5 L311.2 282.5 L312.5 284.8 L313.8 286.7 L315.0 290.0 L316.2 287.8 L317.5 288.9 L318.8 287.0 L320.0 286.2 L321.2 287.2 L322.5 286.8 L323.8 286.6 L325.0 288.8 L326.2 286.4 L327.5 285.1 L328.8 282.5 L330.0 277.4 L331.2 272.1 L332.5 267.5 L333.8 266.7 L335.0 263.8 L336.2 265.9 L337.5 266.7 L338.8 270.0 L340.0 271.6 L341.2 272.9 L342.5 273.8 L343.8 269.3 L345.0 266.3 L346.2 262.5 L347.5 263.0 L348.8 264.3 L350.0 265.0 L351.2 262.7 L352.5 260.7 L353.8 258.6 L355.0 257.5 L356.2 256.9 L357.5 256.8 L358.8 256.2 L360.0 258.6 L361.2 259.5 L362.5 260.0 L363.8 259.2 L365.0 259.9 L366.2 258.6 L367.5 258.8 L368.8 256.3 L370.0 253.6 L371.2 251.2 L372.5 250.8 L373.8 250.3 L375.0 250.2 L376.2 250.0 L377.5 250.7 L378.8 254.2 L380.0 257.5 L381.2 258.0 L382.5 258.8 L383.8 261.2 L385.0 259.3 L386.2 256.3 L387.5 253.9 L388.8 252.5 L390.0 255.1 L391.2 256.6 L392.5 257.5 L393.8 261.2 L395.0 263.5 L396.2 266.0 L397.5 267.5 L398.8 265.5 L400.0 262.6 L401.2 260.0 L402.5 257.7 L403.8 255.8 L405.0 252.6 L406.2 250.0 L407.5 247.0 L408.8 246.8 L410.0 246.2 L411.2 246.4 L412.5 245.4 L413.8 246.0 L415.0 246.2 L416.2 246.3 L417.5 246.3 L418.8 246.5 L420.0 245.0 L421.2 246.9 L422.5 250.1 L423.8 252.2 L425.0 253.8 L426.2 247.1 L427.5 240.6 L428.8 235.0 L430.0 231.8 L431.2 230.3 L432.5 227.5 L433.8 226.0 L435.0 224.9 L436.2 224.3 L437.5 222.5 L438.8 220.1 L440.0 219.4 L441.2 218.6 L442.5 217.5 L443.6 219.7 L444.8 219.7 L445.9 221.8 L447.0 222.5 L448.0 218.9 L449.0 215.4 L450.0 212.5 L451.2 210.7 L452.5 209.6 L453.8 208.7 L455.0 207.5 L456.2 209.1 L457.5 207.1 L458.8 207.3 L460.0 208.8 L461.2 208.2 L462.5 206.4 L463.8 204.4 L465.0 203.8 L466.2 204.4 L467.5 206.9 L468.8 208.8 L470.0 203.8 L471.2 199.3 L472.5 195.0 L473.8 191.3 L475.0 187.0 L476.2 183.3 L477.5 182.5 L478.8 180.6 L480.0 179.5 L481.2 175.9 L482.5 173.8 L483.8 175.0 L485.0 175.5 L486.2 175.0 L487.5 172.4 L488.8 168.0 L490.0 163.8 L491.2 169.4 L492.5 176.1 L493.8 182.5 L495.0 180.1 L496.2 175.9 L497.5 173.8 L498.8 171.6 L500.0 169.4 L501.2 167.5 L502.5 165.0 L503.8 160.2 L505.0 156.7 L506.2 153.8 L507.5 153.9 L508.8 152.0 L510.0 154.5 L511.2 156.4 L512.5 160.0 L513.8 164.1 L515.0 168.3 L516.2 172.5 L517.5 176.4 L518.8 179.2 L520.0 182.5 L521.2 185.1 L522.5 186.7 L523.8 190.0 L525.0 184.9 L526.2 177.5 L527.5 177.1 L528.8 178.1 L530.0 180.0 L531.2 181.3 L532.5 183.2 L533.8 185.0 L534.8 189.1 L535.9 192.7 L537.0 196.2 L538.1 192.6 L539.1 190.3 L540.2 188.6 L541.2 186.2 L542.5 184.6 L543.8 183.8 L545.0 182.4 L546.2 181.2 L547.5 182.4 L548.8 183.6 L550.0 185.4 L551.2 185.0 L552.5 183.2 L553.8 182.1 L555.0 180.8 L556.2 177.5 L557.5 175.1 L558.8 174.0 L560.0 173.7 L561.2 173.8 L562.5 175.7 L563.8 178.0 L565.0 179.1 L566.2 180.0 L567.5 178.3 L568.8 178.3 L570.0 177.5 L571.2 181.8 L572.5 186.1 L573.8 189.6 L575.0 193.8 L576.2 192.6 L577.5 188.9 L578.8 185.0 L580.0 183.0 L581.2 181.1 L582.5 180.0 L583.8 179.3 L585.0 177.7 L586.2 175.0 L587.5 170.9 L588.8 168.2 L590.0 165.0 L591.2 164.5 L592.5 165.9 L593.8 167.3 L595.0 168.8 L596.2 168.3 L597.5 168.3 L598.8 166.2 L600.0 166.6 L601.2 168.8 L602.5 170.0 L603.8 171.5 L605.0 173.7 L606.2 175.0 L607.5 174.3 L608.8 170.8 L610.0 167.5 L611.2 169.1 L612.5 170.9 L613.8 172.3 L615.0 172.5 L616.2 176.1 L617.5 178.8 L618.8 182.5 L620.0 180.3 L621.2 178.1 L622.5 176.2 L623.8 178.1 L625.0 179.1 L626.2 180.0 L627.5 181.8 L628.8 183.9 L630.0 185.0 L631.2 191.0 L632.5 196.6 L633.8 202.5 L635.0 199.2 L636.2 197.1 L637.5 192.5 L638.8 191.9 L640.0 190.2 L641.2 188.8 L642.5 189.6 L643.8 191.6 L645.0 192.5 L646.2 194.4 L647.5 195.3 L648.8 197.5 L650.0 201.5 L651.2 205.7 L652.5 211.2 L653.8 207.3 L655.0 203.8 L656.2 197.5 L657.5 194.6 L658.8 192.3 L660.0 190.0 L661.2 187.8 L662.5 185.3 L663.8 182.5 L665.0 183.4 L666.2 182.7 L667.5 183.8 L668.8 186.5 L670.0 189.0 L671.2 190.0 L672.5 191.7 L673.8 193.8 L675.0 196.2 L676.2 196.6 L677.5 196.6 L678.8 197.4 L680.0 198.8 L681.2 201.2 L682.5 202.4 L683.8 203.8 L685.0 206.3 L686.2 207.6 L687.5 208.8 L688.8 205.7 L690.0 203.4 L691.2 200.0 L692.5 198.8 L693.8 198.8 L695.0 195.9 L696.2 193.6 L697.5 191.2 L698.8 188.8 L700.0 187.0 L701.2 189.3 L702.5 190.6 L703.8 190.0 L705.0 192.0 L706.2 195.4 L707.5 197.5 L708.8 197.5 L710.0 198.1 L711.2 197.5 L712.5 195.2 L713.8 193.6 L715.0 193.8 L716.2 194.5 L717.5 194.7 L718.8 192.2 L720.0 190.0 L721.2 192.0 L722.5 194.7 L723.8 196.2 L725.0 198.3 L726.2 201.8 L727.5 202.5 L728.8 206.4 L730.0 209.6 L731.2 212.5 L732.5 209.5 L733.8 208.8 L735.0 208.1 L736.2 205.1 L737.5 203.8 L738.8 204.6 L740.0 206.5 L741.2 208.8 L742.5 210.4 L743.8 212.2 L745.0 212.5 L746.2 217.0 L747.5 220.0 L748.8 217.7 L750.0 214.4 L751.2 210.0 L752.5 209.5 L753.8 209.5 L755.0 208.8 L756.2 208.2 L757.5 207.9 L758.8 206.2 L760.0 204.7 L761.2 205.0 L762.5 202.5 L763.8 198.1 L765.0 196.2 L766.2 196.6 L767.5 198.2 L768.8 201.2 L770.0 202.4 L771.2 202.9 L772.5 205.0 L773.8 207.6 L775.0 212.8 L776.2 217.5 L777.5 218.1 L778.8 216.1 L780.0 215.0 L781.2 213.3 L782.5 211.1 L783.8 208.8 L785.0 206.6 L786.2 203.5 L787.5 201.2 L788.8 202.4 L790.0 204.4 L791.2 207.5 L792.5 208.7 L793.8 209.5 L795.0 211.2 L796.2 216.3 L797.5 221.6 L798.8 227.5 L800.0 225.1 L801.2 223.8 L802.5 225.3 L803.8 229.1 L805.0 232.5 L806.2 236.4 L807.5 241.3 L808.8 247.5 L810.0 246.7 L811.2 246.2 L812.1 255.9 L813.0 267.5 L814.0 252.6 L815.0 240.0 L816.2 237.3 L817.5 235.1 L818.8 235.0 L820.0 233.0 L821.2 233.6 L822.5 232.5 L823.8 230.3 L825.0 229.2 L826.2 228.8 L827.5 228.5 L828.8 226.2 L830.0 230.3 L831.2 233.3 L832.5 237.5 L833.8 237.7 L835.0 238.3 L836.2 240.0 L837.5 241.4 L838.8 243.3 L840.0 245.0 L841.2 248.7 L842.5 251.6 L843.8 253.8 L844.8 255.1 L845.9 258.3 L847.0 261.2 L848.0 259.6 L849.0 256.7 L850.0 253.8 L851.2 255.5 L852.5 260.0 L853.8 262.5 L854.8 265.7 L855.9 269.8 L857.0 273.8 L857.9 277.0 L858.8 278.8 L860.0 274.6 L861.2 270.5 L862.5 267.5 L863.8 266.0 L865.0 265.2 L866.2 265.0 L867.5 261.9 L868.8 259.0 L870.0 257.5 L871.2 255.1 L872.5 254.5 L873.8 251.2 L875.0 251.3 L876.2 252.7 L877.5 253.8 L878.5 254.2 L879.5 253.1 L880.5 252.5 L881.8 257.4 L883.0 266.2 L884.1 268.7 L885.2 270.6 L886.2 270.0 L887.5 271.5 L888.8 274.2 L890.0 275.0 L891.0 273.4 L892.0 271.9 L893.0 268.8 L894.2 267.7 L895.5 263.8" fill="none" stroke="#8888ee" stroke-width="2.25" stroke-linejoin="round" stroke-linecap="round"/>
<path d="M43.8 277.5 L44.8 277.8 L45.9 277.7 L47.0 278.7 L48.1 278.7 L49.2 279.8 L50.3 279.0 L51.4 279.0 L52.5 278.8 L53.8 278.7 L55.0 278.6 L56.2 279.0 L57.5 280.0 L58.5 280.2 L59.6 280.2 L60.6 279.9 L61.7 278.7 L62.7 278.1 L63.8 278.0 L65.0 279.0 L66.2 279.4 L67.5 280.0 L68.8 281.2 L70.0 283.9 L71.2 286.7 L72.5 290.0 L73.8 290.9 L75.0 292.0 L76.2 292.6 L77.5 294.0 L78.8 295.1 L80.0 297.0 L81.1 297.0 L82.2 294.8 L83.4 294.6 L84.5 294.0 L85.6 295.2 L86.6 295.2 L87.7 295.6 L88.8 295.0 L90.0 293.0 L91.2 292.1 L92.5 291.4 L93.8 290.5 L95.0 289.1 L96.2 287.0 L97.5 285.9 L98.8 283.8 L99.8 281.0 L100.9 280.2 L102.0 279.2 L103.1 279.1 L104.2 278.8 L105.3 278.6 L106.4 278.0 L107.5 278.5 L108.6 279.3 L109.6 280.2 L110.7 281.7 L111.8 282.6 L112.9 282.5 L113.9 282.0 L115.0 282.5 L116.1 283.9 L117.2 285.2 L118.4 286.0 L119.5 287.5 L120.6 286.3 L121.7 286.3 L122.8 284.4 L123.9 282.5 L125.0 282.5 L126.1 281.3 L127.2 279.8 L128.3 279.5 L129.4 279.5 L130.6 278.4 L131.7 277.4 L132.8 276.0 L133.9 275.3 L135.0 273.8 L136.1 272.9 L137.2 271.6 L138.3 270.9 L139.4 269.4 L140.6 269.4 L141.7 269.4 L142.8 269.0 L143.9 268.4 L145.0 267.5 L146.1 268.0 L147.1 268.3 L148.2 268.1 L149.3 266.9 L150.4 267.0 L151.4 266.6 L152.5 266.2 L153.6 265.5 L154.6 264.9 L155.7 263.4 L156.8 263.3 L157.9 262.4 L158.9 261.9 L160.0 262.5 L161.2 262.7 L162.5 264.4 L163.8 265.3 L165.0 266.2 L166.1 266.5 L167.2 266.6 L168.3 266.2 L169.4 265.7 L170.6 265.0 L171.7 263.0 L172.8 261.5 L173.9 260.8 L175.0 258.8 L176.1 259.5 L177.2 258.4 L178.3 257.9 L179.4 257.5 L180.6 258.4 L181.7 258.5 L182.8 257.8 L183.9 258.3 L185.0 257.5 L186.1 257.2 L187.2 257.8 L188.3 257.0 L189.4 257.6 L190.6 257.0 L191.7 255.7 L192.8 255.6 L193.9 255.8 L195.0 255.0 L196.1 255.6 L197.1 255.7 L198.2 255.2 L199.3 253.2 L200.4 253.3 L201.4 252.8 L202.5 252.5 L203.8 254.3 L205.0 255.0 L206.2 255.6 L207.5 257.5 L208.8 260.1 L210.0 262.1 L211.2 263.8 L212.5 261.7 L213.8 259.4 L215.0 258.8 L216.2 259.1 L217.5 257.4 L218.8 257.7 L220.0 257.5 L221.0 257.1 L222.1 258.0 L223.1 259.1 L224.2 259.9 L225.2 260.5 L226.2 261.2 L227.5 265.3 L228.8 267.4 L230.0 272.5 L231.2 277.9 L232.5 281.4 L233.8 288.8 L235.0 291.2 L236.2 292.7 L237.5 293.3 L238.8 292.0 L239.8 298.5 L240.9 303.2 L242.0 310.0 L243.1 326.4 L244.2 342.5 L245.3 347.1 L246.4 355.0 L247.5 360.0 L248.8 360.3 L250.0 360.4 L251.2 360.0 L252.5 346.9 L253.8 335.0 L255.0 336.0 L256.2 337.4 L257.5 337.5 L258.8 338.5 L260.0 341.2 L261.2 335.9 L262.5 331.8 L263.8 327.5 L265.0 325.5 L266.2 323.2 L267.5 322.5 L268.8 323.4 L270.0 325.4 L271.2 326.2 L272.5 326.3 L273.8 325.2 L275.0 324.7 L276.2 326.2 L277.5 323.3 L278.8 320.7 L280.0 317.5 L281.2 318.9 L282.5 321.1 L283.8 322.5 L285.0 323.7 L286.2 320.0 L287.5 318.8 L288.8 320.5 L290.0 320.4 L291.2 320.4 L292.5 322.5 L293.8 318.9 L295.0 318.1 L296.2 313.8 L297.5 315.0 L298.8 314.5 L300.0 313.8 L301.2 309.1 L302.5 304.8 L303.8 300.0 L305.0 297.8 L306.2 293.6 L307.5 290.0 L308.8 286.5 L310.0 283.7 L311.2 281.2 L312.3 284.0 L313.4 287.7 L314.5 292.5 L315.6 292.2 L316.7 291.9 L317.8 292.6 L318.9 290.0 L320.0 288.8 L321.1 289.8 L322.1 289.9 L323.2 290.5 L324.3 291.0 L325.4 290.8 L326.4 292.0 L327.5 292.5 L328.5 291.8 L329.6 290.2 L330.6 289.9 L331.7 289.0 L332.7 286.6 L333.8 285.0 L335.0 284.1 L336.2 285.2 L337.5 287.5 L338.8 285.9 L340.0 284.3 L341.2 281.4 L342.5 278.8 L343.8 278.1 L345.0 278.4 L346.2 279.0 L347.5 280.0 L348.8 282.3 L350.0 283.5 L351.2 283.5 L352.5 283.8 L353.8 281.7 L355.0 279.2 L356.2 276.9 L357.5 275.0 L358.5 274.3 L359.6 274.7 L360.6 274.5 L361.7 274.3 L362.7 273.3 L363.8 272.5 L364.8 273.1 L365.8 274.1 L366.9 273.8 L367.9 273.9 L369.0 274.4 L370.0 275.0 L371.1 274.9 L372.1 274.7 L373.2 274.7 L374.3 275.2 L375.4 274.6 L376.4 273.5 L377.5 272.5 L378.8 273.3 L380.0 275.5 L381.2 277.1 L382.5 277.5 L383.6 276.9 L384.6 274.9 L385.7 273.6 L386.8 272.4 L387.9 271.0 L388.9 270.9 L390.0 270.0 L391.2 272.5 L392.5 274.4 L393.8 277.5 L395.0 280.5 L396.2 282.7 L397.5 283.8 L398.8 281.1 L400.0 280.0 L401.2 277.8 L402.5 276.2 L403.6 275.7 L404.6 274.2 L405.7 273.0 L406.8 271.9 L407.9 271.5 L408.9 269.6 L410.0 268.8 L411.2 270.1 L412.5 271.3 L413.8 273.2 L415.0 275.0 L416.2 276.0 L417.5 276.5 L418.8 277.1 L420.0 276.2 L421.2 280.0 L422.5 285.5 L423.8 290.0 L425.0 285.5 L426.2 280.0 L427.0 272.5 L428.0 268.4 L429.0 263.4 L430.0 257.5 L431.2 256.0 L432.5 254.3 L433.8 252.5 L435.0 252.4 L436.2 251.8 L437.5 250.9 L438.8 250.0 L440.0 249.4 L441.2 248.1 L442.5 246.2 L443.8 245.0 L445.0 245.5 L446.2 244.7 L447.5 243.5 L448.8 242.5 L450.0 241.4 L451.2 239.5 L452.5 237.5 L453.8 238.5 L455.0 238.9 L456.2 239.9 L457.5 238.8 L458.8 236.7 L460.0 235.2 L461.2 234.5 L462.5 232.5 L463.8 234.3 L465.0 235.6 L466.2 237.5 L467.5 234.7 L468.8 232.8 L470.0 230.0 L471.2 229.1 L472.5 228.9 L473.8 228.2 L475.0 227.5 L476.2 224.3 L477.5 223.2 L478.8 221.2 L480.0 221.9 L481.2 222.6 L482.5 223.3 L483.8 223.8 L485.0 221.7 L486.2 220.2 L487.5 220.0 L488.8 221.8 L490.0 223.7 L491.2 224.9 L492.5 227.5 L493.8 229.3 L495.0 230.9 L496.2 231.2 L497.5 228.7 L498.8 225.3 L500.0 222.5 L501.2 221.2 L502.5 219.1 L503.8 217.3 L505.0 216.2 L506.2 215.3 L507.5 214.8 L508.8 213.8 L510.0 215.0 L511.2 216.5 L512.5 218.8 L513.8 217.9 L515.0 218.0 L516.2 217.5 L517.5 219.8 L518.8 221.1 L520.0 222.5 L521.2 222.2 L522.3 222.4 L523.5 223.8 L524.9 220.2 L526.2 216.2 L527.5 215.2 L528.8 214.7 L530.0 215.1 L531.2 213.8 L532.5 215.3 L533.8 215.9 L535.0 217.5 L536.2 216.7 L537.5 217.2 L538.8 216.2 L540.0 215.8 L541.2 214.8 L542.5 213.3 L543.8 212.5 L545.0 210.7 L546.2 209.2 L547.5 207.5 L548.8 205.9 L550.0 205.8 L551.2 204.8 L552.5 203.8 L553.8 202.8 L555.0 202.8 L556.2 201.2 L557.5 201.1 L558.8 203.0 L560.0 205.0 L561.2 205.1 L562.5 203.8 L563.8 202.5 L565.0 204.4 L566.2 206.6 L567.5 206.2 L568.8 202.8 L570.0 199.3 L571.2 196.2 L572.5 197.9 L573.8 198.5 L575.0 200.0 L576.2 200.2 L577.5 198.4 L578.8 196.8 L580.0 196.2 L581.2 195.5 L582.5 195.5 L583.8 194.7 L585.0 193.8 L586.2 192.1 L587.5 192.4 L588.8 191.1 L590.0 190.0 L591.0 189.7 L592.1 189.5 L593.1 191.4 L594.2 190.8 L595.2 189.8 L596.2 188.8 L597.5 188.7 L598.8 186.9 L600.0 186.5 L601.2 186.2 L602.5 188.9 L603.8 192.7 L605.0 196.2 L606.2 195.5 L607.5 195.6 L608.8 195.1 L610.0 193.8 L611.2 194.8 L612.5 195.8 L613.8 197.5 L615.0 197.4 L616.2 197.5 L617.5 196.3 L618.8 196.2 L620.0 195.3 L621.2 193.8 L622.5 193.8 L623.8 195.1 L625.0 197.6 L626.2 200.0 L627.5 202.6 L628.8 206.2 L630.0 202.2 L631.2 198.9 L632.5 195.0 L633.8 194.0 L635.0 191.2 L636.2 190.0 L637.5 189.9 L638.8 189.6 L640.0 188.8 L641.2 188.2 L642.5 187.9 L643.8 187.6 L645.0 186.2 L646.2 185.3 L647.5 184.8 L648.8 185.0 L650.0 189.0 L651.2 192.2 L652.5 196.2 L653.8 194.5 L655.0 194.5 L656.2 192.5 L657.5 190.4 L658.8 188.2 L660.0 186.2 L661.2 184.5 L662.5 182.9 L663.8 181.5 L665.0 181.2 L666.2 182.5 L667.5 183.4 L668.8 184.9 L670.0 186.2 L671.2 186.5 L672.5 187.8 L673.8 189.4 L675.0 190.0 L676.2 189.7 L677.5 189.5 L678.8 188.7 L680.0 188.8 L681.2 192.9 L682.5 196.8 L683.8 200.0 L685.0 201.4 L686.2 202.2 L687.5 202.5 L688.8 201.9 L690.0 202.5 L691.2 198.8 L692.5 197.2 L693.8 196.5 L695.0 196.2 L696.2 194.4 L697.5 193.1 L698.8 191.0 L700.0 190.0 L701.2 190.3 L702.5 190.0 L703.8 188.7 L705.0 187.5 L706.2 187.1 L707.5 186.2 L708.8 185.4 L710.0 185.0 L711.2 184.7 L712.5 183.8 L713.8 183.8 L715.0 184.2 L716.2 186.0 L717.5 186.2 L718.8 185.0 L720.0 183.9 L721.2 185.0 L722.5 188.0 L723.8 189.7 L725.0 191.2 L726.2 194.2 L727.5 197.1 L728.8 200.0 L730.0 201.5 L731.2 203.7 L732.5 206.2 L733.8 204.5 L735.0 203.5 L736.2 201.2 L737.5 199.4 L738.8 197.2 L740.0 196.2 L741.2 198.2 L742.5 198.2 L743.8 198.8 L744.8 200.6 L745.9 202.6 L747.0 203.8 L748.0 200.9 L749.0 197.0 L750.0 193.8 L751.2 191.8 L752.5 190.7 L753.8 190.3 L755.0 188.8 L756.1 187.8 L757.2 187.9 L758.4 186.0 L759.5 185.0 L760.5 186.1 L761.5 188.4 L762.5 190.0 L763.8 187.7 L765.0 188.6 L766.2 187.5 L767.5 188.1 L768.8 190.7 L770.0 191.2 L771.2 194.4 L772.5 197.5 L773.8 200.0 L775.0 205.3 L776.2 211.2 L777.5 210.4 L778.8 208.7 L780.0 207.5 L781.2 204.6 L782.5 202.6 L783.8 201.2 L785.0 199.9 L786.2 197.1 L787.5 196.2 L788.8 198.5 L790.0 201.2 L791.2 202.6 L792.5 203.9 L793.8 206.2 L795.0 210.6 L796.2 214.7 L797.5 217.5 L798.8 222.3 L800.0 226.2 L801.2 222.0 L802.5 217.5 L803.8 222.9 L805.0 230.0 L806.0 234.4 L807.0 239.0 L808.0 246.2 L809.1 242.3 L810.2 238.4 L811.2 235.0 L812.5 227.7 L813.8 220.0 L815.0 220.5 L816.2 218.9 L817.5 217.5 L818.8 217.0 L820.0 215.9 L821.2 216.2 L822.5 214.2 L823.8 212.0 L825.0 210.0 L826.2 211.4 L827.5 213.2 L828.8 213.8 L830.0 215.8 L831.2 217.8 L832.5 220.0 L833.8 220.1 L835.0 219.3 L836.2 221.2 L837.5 221.6 L838.8 222.5 L840.0 222.5 L841.2 226.2 L842.5 229.1 L843.8 232.5 L845.0 236.2 L846.2 240.0 L847.5 239.1 L848.8 238.4 L850.0 237.5 L851.2 239.6 L852.5 244.1 L853.8 247.5 L854.8 250.3 L855.9 252.2 L857.0 255.0 L858.0 252.1 L859.0 249.6 L860.0 246.2 L861.2 244.3 L862.5 245.3 L863.8 243.8 L865.0 242.4 L866.2 240.9 L867.5 238.8 L868.8 235.9 L870.0 233.0 L871.2 230.0 L872.5 231.5 L873.8 232.4 L875.0 232.5 L876.2 233.3 L877.5 234.1 L878.8 235.0 L879.8 238.6 L880.9 244.6 L882.0 247.5 L883.0 253.3 L884.0 259.9 L885.0 265.0 L886.2 266.5 L887.5 268.8 L888.8 266.7 L890.0 263.8 L891.0 261.2 L892.0 259.6 L893.0 256.2 L894.2 259.1 L895.5 261.2" fill="none" stroke="#b8b8b8" stroke-width="2.25" stroke-linejoin="round" stroke-linecap="round"/>
<path d="M43.8 277.0 L44.8 276.5 L45.9 276.1 L47.0 277.0 L48.1 276.3 L49.2 275.9 L50.3 275.1 L51.4 274.7 L52.5 274.5 L53.8 274.9 L55.0 275.0 L56.2 276.3 L57.5 277.0 L58.5 277.3 L59.6 277.3 L60.6 276.2 L61.7 275.0 L62.7 275.3 L63.8 274.5 L65.0 275.5 L66.2 276.0 L67.5 277.0 L68.8 279.2 L70.0 281.5 L71.2 283.9 L72.5 286.5 L73.8 287.0 L75.0 287.8 L76.2 287.9 L77.5 287.5 L78.8 290.0 L80.0 292.0 L81.2 291.6 L82.5 289.2 L83.8 288.0 L85.0 288.7 L86.2 289.3 L87.5 291.2 L88.8 290.1 L90.0 288.9 L91.2 287.3 L92.5 286.2 L93.6 285.1 L94.6 283.6 L95.7 282.5 L96.8 281.5 L97.9 280.8 L99.0 280.0 L100.1 277.5 L101.2 277.3 L102.4 276.3 L103.5 275.8 L104.5 275.5 L105.6 275.6 L106.7 274.8 L107.7 275.5 L108.8 276.0 L109.8 277.2 L110.8 278.3 L111.9 279.0 L112.9 279.0 L114.0 279.3 L115.0 280.0 L116.1 282.3 L117.2 283.2 L118.4 284.5 L119.5 286.2 L120.6 285.0 L121.7 284.5 L122.8 282.9 L123.9 281.0 L125.0 280.0 L126.1 278.9 L127.2 277.8 L128.3 277.5 L129.4 277.1 L130.6 276.2 L131.7 275.6 L132.8 274.0 L133.9 272.8 L135.0 271.2 L136.1 271.3 L137.2 270.0 L138.3 268.5 L139.4 268.1 L140.6 268.0 L141.7 267.8 L142.8 267.1 L143.9 266.2 L145.0 266.2 L146.1 266.9 L147.1 267.2 L148.2 266.9 L149.3 265.7 L150.4 264.7 L151.4 264.2 L152.5 263.8 L153.6 263.6 L154.6 263.1 L155.7 262.5 L156.8 262.5 L157.9 261.3 L158.9 260.9 L160.0 261.2 L161.2 261.8 L162.5 263.0 L163.8 263.9 L165.0 265.0 L166.2 264.0 L167.5 263.1 L168.8 261.2 L170.0 260.0 L171.1 259.4 L172.2 257.8 L173.3 255.4 L174.4 255.1 L175.6 254.8 L176.7 255.3 L177.8 253.6 L178.9 252.8 L180.0 252.5 L181.1 253.4 L182.2 252.8 L183.3 253.0 L184.4 252.5 L185.6 251.7 L186.7 252.0 L187.8 250.5 L188.9 249.6 L190.0 249.5 L191.1 249.1 L192.2 248.4 L193.3 248.3 L194.4 247.2 L195.6 246.7 L196.7 246.2 L197.8 245.5 L198.9 244.9 L200.0 244.5 L201.0 244.5 L202.1 244.6 L203.1 244.5 L204.2 244.9 L205.2 245.0 L206.2 245.0 L207.5 247.7 L208.8 250.0 L210.0 251.4 L211.2 253.8 L212.5 251.6 L213.8 248.5 L215.0 246.2 L216.2 245.3 L217.5 243.6 L218.8 243.0 L220.0 243.0 L221.0 242.6 L222.1 242.9 L223.1 242.2 L224.2 243.1 L225.2 243.2 L226.2 243.0 L227.5 248.2 L228.8 251.2 L230.0 262.3 L231.2 270.4 L232.5 276.2 L233.8 273.6 L235.0 269.7 L236.2 267.5 L237.2 272.5 L238.2 277.5 L239.1 281.2 L240.0 287.5 L241.1 291.8 L242.2 297.3 L243.2 300.0 L244.1 308.3 L245.0 317.5 L245.9 321.7 L246.8 326.2 L247.8 335.9 L248.8 346.2 L250.0 341.1 L251.2 335.0 L252.5 327.9 L253.8 320.0 L255.0 324.0 L256.2 325.9 L257.5 327.5 L258.8 328.0 L260.0 331.2 L261.2 322.2 L262.5 312.5 L263.8 310.1 L265.0 306.8 L266.2 305.0 L267.5 304.9 L268.8 304.2 L270.0 302.5 L271.2 304.4 L272.5 307.3 L273.8 308.8 L275.0 305.3 L276.2 302.9 L277.5 300.0 L278.8 297.2 L280.0 292.5 L281.2 294.3 L282.5 296.1 L283.8 297.5 L285.0 298.2 L286.2 295.0 L287.5 291.2 L288.8 293.4 L290.0 293.6 L291.2 295.9 L292.5 300.0 L293.8 297.5 L295.0 295.6 L296.2 290.0 L297.5 290.7 L298.8 289.4 L300.0 287.5 L301.2 284.3 L302.5 282.4 L303.8 279.3 L305.0 277.5 L306.2 274.7 L307.5 271.9 L308.8 267.5 L309.8 265.6 L310.9 264.3 L312.0 261.2 L313.0 264.7 L314.0 269.2 L315.0 273.8 L316.2 271.8 L317.5 270.6 L318.8 267.5 L320.0 269.0 L321.2 270.2 L322.5 270.0 L323.8 271.4 L325.0 273.5 L326.2 275.0 L327.5 273.4 L328.8 270.2 L330.0 267.5 L331.2 265.7 L332.5 264.3 L333.8 262.5 L334.8 261.2 L335.8 259.7 L336.9 259.0 L337.9 258.1 L339.0 257.3 L340.0 257.5 L341.0 257.0 L342.1 256.0 L343.1 255.0 L344.2 253.4 L345.2 252.6 L346.2 252.5 L347.3 251.3 L348.3 251.7 L349.4 250.5 L350.4 250.8 L351.5 250.3 L352.5 250.0 L353.5 249.4 L354.6 248.8 L355.6 248.0 L356.7 247.3 L357.7 247.2 L358.8 246.2 L359.8 246.2 L360.8 245.5 L361.9 245.0 L362.9 243.5 L364.0 242.7 L365.0 242.5 L366.0 241.0 L367.1 240.8 L368.1 240.4 L369.2 240.5 L370.2 240.6 L371.2 240.0 L372.5 237.5 L373.8 235.4 L375.0 233.8 L376.0 233.0 L377.0 231.3 L378.0 230.0 L379.1 234.4 L380.2 238.9 L381.2 242.5 L382.3 243.9 L383.4 245.3 L384.5 246.2 L385.5 244.0 L386.5 242.5 L387.5 241.2 L388.8 244.2 L390.0 245.5 L391.2 246.2 L392.5 247.6 L393.8 250.5 L395.0 253.8 L396.2 252.4 L397.5 249.6 L398.8 247.5 L400.0 246.2 L401.2 244.2 L402.5 243.2 L403.8 242.5 L405.0 239.4 L406.2 236.4 L407.5 233.1 L408.8 231.2 L410.0 233.2 L411.2 234.3 L412.5 236.2 L413.8 236.0 L415.0 235.4 L416.2 235.1 L417.5 235.0 L418.8 237.6 L420.0 237.7 L421.2 238.8 L422.5 242.6 L423.8 246.2 L424.8 241.4 L425.9 236.4 L427.0 232.5 L428.1 230.6 L429.1 229.4 L430.2 226.7 L431.2 225.0 L432.3 224.3 L433.3 223.1 L434.4 220.9 L435.4 220.4 L436.5 220.1 L437.5 217.5 L438.8 216.8 L440.0 217.1 L441.2 217.2 L442.5 216.2 L443.8 215.1 L445.0 214.3 L446.2 212.1 L447.5 210.0 L448.8 208.6 L450.0 207.5 L451.2 205.9 L452.5 205.0 L453.8 204.9 L455.0 205.2 L456.2 205.1 L457.5 203.8 L458.8 201.6 L460.0 200.0 L461.2 200.6 L462.5 201.0 L463.8 202.4 L465.0 202.5 L466.2 201.5 L467.5 200.6 L468.8 199.9 L470.0 198.8 L471.2 196.7 L472.5 193.5 L473.8 190.4 L475.0 187.5 L476.2 186.2 L477.5 186.9 L478.8 186.9 L480.0 186.2 L481.2 187.2 L482.5 188.3 L483.8 189.5 L485.0 190.0 L486.2 187.2 L487.5 185.3 L488.8 182.5 L490.0 184.3 L491.2 185.4 L492.5 187.5 L493.5 190.9 L494.5 193.6 L495.5 196.2 L496.6 192.5 L497.7 188.8 L498.8 185.0 L500.0 182.5 L501.2 180.6 L502.5 177.5 L503.8 175.4 L505.0 174.0 L506.2 173.4 L507.5 172.5 L508.8 172.9 L510.0 174.3 L511.2 175.0 L512.5 178.6 L513.8 180.5 L515.0 182.5 L516.2 183.5 L517.5 186.1 L518.8 187.2 L520.0 188.8 L521.2 185.9 L522.5 181.9 L523.8 180.0 L525.0 179.8 L526.2 178.7 L527.5 177.5 L528.8 178.4 L530.0 179.2 L531.2 179.4 L532.5 180.0 L533.8 180.5 L535.0 182.0 L536.2 182.5 L537.5 179.5 L538.8 176.8 L540.0 175.0 L541.2 173.5 L542.5 170.9 L543.8 168.7 L545.0 167.5 L546.2 166.5 L547.5 165.0 L548.8 163.7 L550.0 162.5 L551.2 160.6 L552.5 159.3 L553.8 159.1 L555.0 158.8 L556.2 159.5 L557.5 159.1 L558.8 160.1 L560.0 161.2 L561.2 160.5 L562.5 159.5 L563.8 159.2 L565.0 158.8 L566.2 157.7 L567.5 156.6 L568.8 155.9 L570.0 156.2 L571.2 160.3 L572.5 163.7 L573.8 167.5 L575.0 165.8 L576.2 165.1 L577.5 162.5 L578.8 161.2 L580.0 160.0 L581.2 158.8 L582.5 157.6 L583.8 156.0 L585.0 155.0 L586.2 154.1 L587.5 153.5 L588.8 152.2 L590.0 151.2 L591.2 150.5 L592.5 150.1 L593.8 150.2 L595.0 150.0 L596.2 149.0 L597.5 149.2 L598.8 147.9 L600.0 147.5 L601.2 150.0 L602.5 152.4 L603.8 155.0 L605.0 153.3 L606.2 150.6 L607.5 148.8 L608.8 148.8 L610.0 147.6 L611.2 146.3 L612.5 146.2 L613.8 145.9 L615.0 146.5 L616.2 146.1 L617.5 145.0 L618.8 145.7 L620.0 146.0 L621.2 145.6 L622.5 146.2 L623.8 147.9 L625.0 149.1 L626.2 151.2 L627.5 149.8 L628.8 147.9 L630.0 145.0 L631.2 143.2 L632.5 141.9 L633.8 142.5 L635.0 141.2 L636.2 141.5 L637.5 141.2 L638.8 140.8 L640.0 140.0 L641.2 139.0 L642.5 138.7 L643.8 138.5 L645.0 137.5 L646.2 136.8 L647.5 136.1 L648.8 136.2 L649.8 139.4 L650.9 142.7 L652.0 146.2 L653.0 143.5 L654.0 140.6 L655.0 137.5 L656.2 135.8 L657.5 134.1 L658.8 132.3 L660.0 131.2 L661.1 130.2 L662.2 129.5 L663.4 129.7 L664.5 130.0 L665.6 131.1 L666.6 132.2 L667.7 133.8 L668.8 135.0 L670.0 135.9 L671.2 135.9 L672.5 137.5 L673.8 140.5 L675.0 143.1 L676.2 146.2 L677.5 144.1 L678.8 142.1 L680.0 140.0 L681.2 142.3 L682.5 145.0 L683.8 146.2 L685.0 148.8 L686.2 151.5 L687.5 153.8 L688.8 151.8 L690.0 149.8 L691.2 147.5 L692.5 145.4 L693.8 144.0 L695.0 142.5 L696.2 139.2 L697.5 136.1 L698.8 132.5 L700.0 132.0 L701.2 132.7 L702.5 132.1 L703.8 131.2 L705.0 129.8 L706.2 128.2 L707.5 127.5 L708.8 125.9 L710.0 125.1 L711.2 123.8 L712.5 122.2 L713.8 122.2 L715.0 122.5 L716.2 123.6 L717.5 122.9 L718.8 122.2 L720.0 122.0 L721.2 122.9 L722.5 124.6 L723.8 125.1 L725.0 125.0 L726.2 127.5 L727.5 129.2 L728.8 131.2 L730.0 134.0 L731.2 137.8 L732.5 141.2 L733.5 141.0 L734.5 139.9 L735.5 138.8 L736.6 136.0 L737.7 133.4 L738.8 130.0 L740.0 131.3 L741.2 132.9 L742.5 133.8 L743.8 135.3 L745.0 135.5 L746.2 136.2 L747.5 131.3 L748.8 128.3 L750.0 125.0 L751.2 123.9 L752.5 123.2 L753.8 122.5 L754.8 122.7 L755.9 122.6 L756.9 122.4 L758.0 121.2 L759.1 122.7 L760.2 124.7 L761.2 127.5 L762.5 126.1 L763.8 125.2 L765.0 125.0 L766.2 126.6 L767.5 129.1 L768.8 132.5 L770.0 136.3 L771.2 140.8 L772.5 145.0 L773.8 148.6 L775.0 152.9 L776.2 157.5 L777.5 154.5 L778.8 149.8 L780.0 145.0 L781.2 142.4 L782.5 140.3 L783.8 138.8 L784.8 138.1 L785.9 138.5 L787.0 137.5 L788.0 139.6 L789.0 142.4 L790.0 145.0 L791.2 147.0 L792.5 148.0 L793.8 150.0 L795.0 153.6 L796.2 156.5 L797.5 160.0 L798.8 161.6 L800.0 162.3 L801.2 162.5 L802.5 163.4 L803.8 166.3 L805.0 170.0 L806.2 172.3 L807.5 173.4 L808.8 176.2 L809.8 176.2 L810.9 177.7 L812.0 178.8 L813.0 171.8 L814.0 164.2 L815.0 157.5 L816.2 154.4 L817.5 150.7 L818.8 148.8 L820.0 146.9 L821.2 146.3 L822.5 145.0 L823.8 144.0 L825.0 143.3 L826.2 142.5 L827.5 145.1 L828.8 146.8 L830.0 150.0 L831.2 151.5 L832.5 152.9 L833.8 155.0 L835.0 155.4 L836.2 157.6 L837.5 157.5 L838.8 156.2 L840.0 156.6 L841.2 156.2 L842.5 162.5 L843.8 167.5 L845.0 171.9 L846.2 176.2 L847.5 175.7 L848.8 176.5 L850.0 177.5 L851.2 179.6 L852.5 184.2 L853.8 187.5 L855.0 193.2 L856.2 199.1 L857.5 203.8 L858.8 199.6 L860.0 194.7 L861.2 190.0 L862.5 196.7 L863.8 201.2 L865.0 198.8 L866.2 195.6 L867.5 192.5 L868.8 189.2 L870.0 185.9 L871.2 181.2 L872.5 181.7 L873.8 180.8 L875.0 178.8 L876.2 179.9 L877.5 181.7 L878.8 182.5 L880.0 189.4 L881.2 195.0 L882.5 203.6 L883.8 213.8 L884.8 217.3 L885.8 220.0 L886.8 222.5 L887.8 218.3 L888.9 216.9 L890.0 213.8 L891.2 211.3 L892.5 208.4 L893.8 205.0 L894.6 208.1 L895.5 210.0" fill="none" stroke="#fbd21e" stroke-width="2.25" stroke-linejoin="round" stroke-linecap="round"/>
<rect x="43.4" y="34.1" width="874.8000000000001" height="365.65" fill="none" stroke="#c0c0c0" stroke-width="1.7"/>
<line x1="114.87" x2="114.87" y1="394.95" y2="399.75" stroke="#c4c4c4" stroke-width="1.2"/>
<line x1="185.93" x2="185.93" y1="394.95" y2="399.75" stroke="#c4c4c4" stroke-width="1.2"/>
<line x1="257.00" x2="257.00" y1="394.95" y2="399.75" stroke="#c4c4c4" stroke-width="1.2"/>
<line x1="328.07" x2="328.07" y1="394.95" y2="399.75" stroke="#c4c4c4" stroke-width="1.2"/>
<line x1="399.13" x2="399.13" y1="394.95" y2="399.75" stroke="#c4c4c4" stroke-width="1.2"/>
<line x1="470.20" x2="470.20" y1="394.95" y2="399.75" stroke="#c4c4c4" stroke-width="1.2"/>
<line x1="541.27" x2="541.27" y1="394.95" y2="399.75" stroke="#c4c4c4" stroke-width="1.2"/>
<line x1="612.33" x2="612.33" y1="394.95" y2="399.75" stroke="#c4c4c4" stroke-width="1.2"/>
<line x1="683.40" x2="683.40" y1="394.95" y2="399.75" stroke="#c4c4c4" stroke-width="1.2"/>
<line x1="754.47" x2="754.47" y1="394.95" y2="399.75" stroke="#c4c4c4" stroke-width="1.2"/>
<line x1="825.53" x2="825.53" y1="394.95" y2="399.75" stroke="#c4c4c4" stroke-width="1.2"/>
<line x1="896.60" x2="896.60" y1="394.95" y2="399.75" stroke="#c4c4c4" stroke-width="1.2"/>
<text x="30.90" y="404.95" font-size="15" fill="#4d4d4f" text-anchor="end" textLength="12.60" lengthAdjust="spacingAndGlyphs">60</text>
<text x="30.90" y="344.01" font-size="15" fill="#4d4d4f" text-anchor="end" textLength="12.60" lengthAdjust="spacingAndGlyphs">80</text>
<text x="30.90" y="283.07" font-size="15" fill="#4d4d4f" text-anchor="end" textLength="18.40" lengthAdjust="spacingAndGlyphs">100</text>
<text x="30.90" y="222.12" font-size="15" fill="#4d4d4f" text-anchor="end" textLength="18.40" lengthAdjust="spacingAndGlyphs">120</text>
<text x="30.90" y="161.18" font-size="15" fill="#4d4d4f" text-anchor="end" textLength="18.40" lengthAdjust="spacingAndGlyphs">140</text>
<text x="30.90" y="100.24" font-size="15" fill="#4d4d4f" text-anchor="end" textLength="18.40" lengthAdjust="spacingAndGlyphs">160</text>
<text x="30.90" y="39.30" font-size="15" fill="#4d4d4f" text-anchor="end" textLength="18.40" lengthAdjust="spacingAndGlyphs">180</text>
<text x="44.10" y="422.90" font-size="15" fill="#4d4d4f" text-anchor="middle" textLength="32.30" lengthAdjust="spacingAndGlyphs">Jul-19</text>
<text x="115.17" y="422.90" font-size="15" fill="#4d4d4f" text-anchor="middle" textLength="33.70" lengthAdjust="spacingAndGlyphs">Oct-19</text>
<text x="186.23" y="422.90" font-size="15" fill="#4d4d4f" text-anchor="middle" textLength="34.50" lengthAdjust="spacingAndGlyphs">Jan-20</text>
<text x="257.30" y="422.90" font-size="15" fill="#4d4d4f" text-anchor="middle" textLength="34.80" lengthAdjust="spacingAndGlyphs">Apr-20</text>
<text x="328.37" y="422.90" font-size="15" fill="#4d4d4f" text-anchor="middle" textLength="32.30" lengthAdjust="spacingAndGlyphs">Jul-20</text>
<text x="399.43" y="422.90" font-size="15" fill="#4d4d4f" text-anchor="middle" textLength="33.70" lengthAdjust="spacingAndGlyphs">Oct-20</text>
<text x="470.50" y="422.90" font-size="15" fill="#4d4d4f" text-anchor="middle" textLength="34.50" lengthAdjust="spacingAndGlyphs">Jan-21</text>
<text x="541.57" y="422.90" font-size="15" fill="#4d4d4f" text-anchor="middle" textLength="34.80" lengthAdjust="spacingAndGlyphs">Apr-21</text>
<text x="612.63" y="422.90" font-size="15" fill="#4d4d4f" text-anchor="middle" textLength="32.30" lengthAdjust="spacingAndGlyphs">Jul-21</text>
<text x="683.70" y="422.90" font-size="15" fill="#4d4d4f" text-anchor="middle" textLength="33.70" lengthAdjust="spacingAndGlyphs">Oct-21</text>
<text x="754.77" y="422.90" font-size="15" fill="#4d4d4f" text-anchor="middle" textLength="34.50" lengthAdjust="spacingAndGlyphs">Jan-22</text>
<text x="825.83" y="422.90" font-size="15" fill="#4d4d4f" text-anchor="middle" textLength="34.80" lengthAdjust="spacingAndGlyphs">Apr-22</text>
<text x="896.90" y="422.90" font-size="15" fill="#4d4d4f" text-anchor="middle" textLength="32.30" lengthAdjust="spacingAndGlyphs">Jul-22</text>
<line x1="60.8" x2="88.6" y1="53.50" y2="53.50" stroke="#62c4c6" stroke-width="2"/>
<text x="90.80" y="58.50" font-size="14" font-weight="700" stroke="#141414" stroke-width="0.4" stroke-linejoin="round" fill="#141414" text-anchor="start" textLength="133.00" lengthAdjust="spacingAndGlyphs" word-spacing="1.3">U.S. Large Cap Stocks</text>
<line x1="60.8" x2="88.6" y1="74.80" y2="74.80" stroke="#5ec3a2" stroke-width="2"/>
<text x="90.80" y="79.80" font-size="14" font-weight="700" stroke="#141414" stroke-width="0.4" stroke-linejoin="round" fill="#141414" text-anchor="start" textLength="132.50" lengthAdjust="spacingAndGlyphs" word-spacing="1.3">U.S. Small Cap Stocks</text>
<line x1="60.8" x2="88.6" y1="96.10" y2="96.10" stroke="#fbd21e" stroke-width="2"/>
<text x="90.80" y="101.10" font-size="14" font-weight="700" stroke="#141414" stroke-width="0.4" stroke-linejoin="round" fill="#141414" text-anchor="start" textLength="81.00" lengthAdjust="spacingAndGlyphs" word-spacing="1.3">Global Stocks</text>
<line x1="60.8" x2="88.6" y1="117.40" y2="117.40" stroke="#8888ee" stroke-width="2"/>
<text x="90.80" y="122.40" font-size="14" font-weight="700" stroke="#141414" stroke-width="0.4" stroke-linejoin="round" fill="#141414" text-anchor="start" textLength="188.50" lengthAdjust="spacingAndGlyphs" word-spacing="1.3">Emerging &amp; Frontier Mkt Stocks</text>
<line x1="60.8" x2="88.6" y1="138.70" y2="138.70" stroke="#b8b8b8" stroke-width="2"/>
<text x="90.80" y="143.70" font-size="14" font-weight="700" stroke="#141414" stroke-width="0.4" stroke-linejoin="round" fill="#141414" text-anchor="start" textLength="88.50" lengthAdjust="spacingAndGlyphs" word-spacing="1.3">Intl Dev Stocks</text>
<defs>
<linearGradient id="g0" x1="0" x2="1" y1="0" y2="0"><stop offset="0" stop-color="#f9b69d"/><stop offset="1" stop-color="#f8a586"/></linearGradient>
<linearGradient id="g1" x1="0" x2="1" y1="0" y2="0"><stop offset="0" stop-color="#f59570"/><stop offset="1" stop-color="#f37c4e"/></linearGradient>
<linearGradient id="g2" x1="0" x2="1" y1="0" y2="0"><stop offset="0" stop-color="#f4865c"/><stop offset="1" stop-color="#f16936"/></linearGradient>
<linearGradient id="g3" x1="0" x2="1" y1="0" y2="0"><stop offset="0" stop-color="#f9b097"/><stop offset="1" stop-color="#f79d7e"/></linearGradient>
<linearGradient id="g4" x1="0" x2="1" y1="0" y2="0"><stop offset="0" stop-color="#59b0ac"/><stop offset="1" stop-color="#2a9a94"/></linearGradient>
<linearGradient id="g5" x1="0" x2="1" y1="0" y2="0"><stop offset="0" stop-color="#f9b59c"/><stop offset="1" stop-color="#f8a485"/></linearGradient>
<linearGradient id="g6" x1="0" x2="1" y1="0" y2="0"><stop offset="0" stop-color="#f48f69"/><stop offset="1" stop-color="#f27546"/></linearGradient>
<linearGradient id="g7" x1="0" x2="1" y1="0" y2="0"><stop offset="0" stop-color="#f37d53"/><stop offset="1" stop-color="#f05f2b"/></linearGradient>
<linearGradient id="g8" x1="0" x2="1" y1="0" y2="0"><stop offset="0" stop-color="#f37b51"/><stop offset="1" stop-color="#f05c28"/></linearGradient>
<linearGradient id="g9" x1="0" x2="1" y1="0" y2="0"><stop offset="0" stop-color="#b3ddd9"/><stop offset="1" stop-color="#9ed3ce"/></linearGradient>
<linearGradient id="g10" x1="0" x2="1" y1="0" y2="0"><stop offset="0" stop-color="#a8d7d3"/><stop offset="1" stop-color="#8fccc6"/></linearGradient>
<linearGradient id="g11" x1="0" x2="1" y1="0" y2="0"><stop offset="0" stop-color="#f69c7a"/><stop offset="1" stop-color="#f4855b"/></linearGradient>
<linearGradient id="g12" x1="0" x2="1" y1="0" y2="0"><stop offset="0" stop-color="#f4865e"/><stop offset="1" stop-color="#f16a38"/></linearGradient>
<linearGradient id="g13" x1="0" x2="1" y1="0" y2="0"><stop offset="0" stop-color="#f48c64"/><stop offset="1" stop-color="#f27140"/></linearGradient>
<linearGradient id="g14" x1="0" x2="1" y1="0" y2="0"><stop offset="0" stop-color="#e4f2f1"/><stop offset="1" stop-color="#dceeed"/></linearGradient>
<linearGradient id="g15" x1="0" x2="1" y1="0" y2="0"><stop offset="0" stop-color="#d1eae8"/><stop offset="1" stop-color="#c4e4e1"/></linearGradient>
<linearGradient id="g16" x1="0" x2="1" y1="0" y2="0"><stop offset="0" stop-color="#91cdc8"/><stop offset="1" stop-color="#72bfb9"/></linearGradient>
<linearGradient id="g17" x1="0" x2="1" y1="0" y2="0"><stop offset="0" stop-color="#fbc2ac"/><stop offset="1" stop-color="#fab499"/></linearGradient>
<linearGradient id="g18" x1="0" x2="1" y1="0" y2="0"><stop offset="0" stop-color="#f8a98a"/><stop offset="1" stop-color="#f6956e"/></linearGradient>
<linearGradient id="g19" x1="0" x2="1" y1="0" y2="0"><stop offset="0" stop-color="#f48d66"/><stop offset="1" stop-color="#f27242"/></linearGradient>
<linearGradient id="g20" x1="0" x2="1" y1="0" y2="0"><stop offset="0" stop-color="#eef6f6"/><stop offset="1" stop-color="#e9f4f3"/></linearGradient>
<linearGradient id="g21" x1="0" x2="1" y1="0" y2="0"><stop offset="0" stop-color="#c0e2df"/><stop offset="1" stop-color="#aedad6"/></linearGradient>
<linearGradient id="g22" x1="0" x2="1" y1="0" y2="0"><stop offset="0" stop-color="#f59773"/><stop offset="1" stop-color="#f37f52"/></linearGradient>
<linearGradient id="g23" x1="0" x2="1" y1="0" y2="0"><stop offset="0" stop-color="#f4855b"/><stop offset="1" stop-color="#f16835"/></linearGradient>
<linearGradient id="g24" x1="0" x2="1" y1="0" y2="0"><stop offset="0" stop-color="#f59771"/><stop offset="1" stop-color="#f37e50"/></linearGradient>
<linearGradient id="g25" x1="0" x2="1" y1="0" y2="0"><stop offset="0" stop-color="#85c8c2"/><stop offset="1" stop-color="#62b8b1"/></linearGradient>
<linearGradient id="g26" x1="0" x2="1" y1="0" y2="0"><stop offset="0" stop-color="#78c1bc"/><stop offset="1" stop-color="#52b0a9"/></linearGradient>
<linearGradient id="g27" x1="0" x2="1" y1="0" y2="0"><stop offset="0" stop-color="#5db4af"/><stop offset="1" stop-color="#2f9f98"/></linearGradient>
<linearGradient id="g28" x1="0" x2="1" y1="0" y2="0"><stop offset="0" stop-color="#fbc1ad"/><stop offset="1" stop-color="#fab39a"/></linearGradient>
<linearGradient id="g29" x1="0" x2="1" y1="0" y2="0"><stop offset="0" stop-color="#7ac3bd"/><stop offset="1" stop-color="#55b2ab"/></linearGradient>
<linearGradient id="g30" x1="0" x2="1" y1="0" y2="0"><stop offset="0" stop-color="#9fd3cf"/><stop offset="1" stop-color="#84c7c2"/></linearGradient>
<linearGradient id="g31" x1="0" x2="1" y1="0" y2="0"><stop offset="0" stop-color="#6ebdb8"/><stop offset="1" stop-color="#45aba4"/></linearGradient>
<linearGradient id="g32" x1="0" x2="1" y1="0" y2="0"><stop offset="0" stop-color="#a5d6d2"/><stop offset="1" stop-color="#8ccbc5"/></linearGradient>
<linearGradient id="g33" x1="0" x2="1" y1="0" y2="0"><stop offset="0" stop-color="#afdad6"/><stop offset="1" stop-color="#98d0cb"/></linearGradient>
<linearGradient id="g34" x1="0" x2="1" y1="0" y2="0"><stop offset="0" stop-color="#cde8e5"/><stop offset="1" stop-color="#bfe2de"/></linearGradient>
<linearGradient id="g35" x1="0" x2="1" y1="0" y2="0"><stop offset="0" stop-color="#6abbb6"/><stop offset="1" stop-color="#40a8a1"/></linearGradient>
<linearGradient id="g36" x1="0" x2="1" y1="0" y2="0"><stop offset="0" stop-color="#fdcdb9"/><stop offset="1" stop-color="#fcc1a8"/></linearGradient>
<linearGradient id="g37" x1="0" x2="1" y1="0" y2="0"><stop offset="0" stop-color="#f3794e"/><stop offset="1" stop-color="#f05924"/></linearGradient>
<linearGradient id="g38" x1="0" x2="1" y1="0" y2="0"><stop offset="0" stop-color="#89cac4"/><stop offset="1" stop-color="#68bbb4"/></linearGradient>
<linearGradient id="g39" x1="0" x2="1" y1="0" y2="0"><stop offset="0" stop-color="#99d1cc"/><stop offset="1" stop-color="#7cc4be"/></linearGradient>
<linearGradient id="g40" x1="0" x2="1" y1="0" y2="0"><stop offset="0" stop-color="#64b7b2"/><stop offset="1" stop-color="#38a39c"/></linearGradient>
<linearGradient id="g41" x1="0" x2="1" y1="0" y2="0"><stop offset="0" stop-color="#f4845c"/><stop offset="1" stop-color="#f26736"/></linearGradient>
<linearGradient id="g42" x1="0" x2="1" y1="0" y2="0"><stop offset="0" stop-color="#70beb9"/><stop offset="1" stop-color="#48aca5"/></linearGradient>
</defs>
<text x="10.50" y="453.20" font-size="14.2" font-weight="700" stroke="#141414" stroke-width="0.4" stroke-linejoin="round" fill="#141414" text-anchor="start" textLength="58.20" lengthAdjust="spacingAndGlyphs" word-spacing="1">Asset Class</text>
<text x="198.20" y="453.20" font-size="14.2" font-weight="700" stroke="#141414" stroke-width="0.4" stroke-linejoin="round" fill="#141414" text-anchor="start" textLength="56.20" lengthAdjust="spacingAndGlyphs">Benchmark</text>
<text x="332.40" y="453.20" font-size="14.2" font-weight="700" stroke="#141414" stroke-width="0.4" stroke-linejoin="round" fill="#141414" text-anchor="middle" textLength="23.84" lengthAdjust="spacingAndGlyphs">MTD</text>
<text x="383.55" y="453.20" font-size="14.2" font-weight="700" stroke="#141414" stroke-width="0.4" stroke-linejoin="round" fill="#141414" text-anchor="middle" textLength="23.23" lengthAdjust="spacingAndGlyphs">QTD</text>
<text x="434.60" y="453.20" font-size="14.2" font-weight="700" stroke="#141414" stroke-width="0.4" stroke-linejoin="round" fill="#141414" text-anchor="middle" textLength="22.01" lengthAdjust="spacingAndGlyphs">YTD</text>
<text x="485.50" y="453.20" font-size="14.2" font-weight="700" stroke="#141414" stroke-width="0.4" stroke-linejoin="round" fill="#141414" text-anchor="middle" textLength="21.41" lengthAdjust="spacingAndGlyphs">1-Yr</text>
<text x="536.35" y="453.20" font-size="14.2" font-weight="700" stroke="#141414" stroke-width="0.4" stroke-linejoin="round" fill="#141414" text-anchor="middle" textLength="21.41" lengthAdjust="spacingAndGlyphs">3-Yr</text>
<text x="587.20" y="453.20" font-size="14.2" font-weight="700" stroke="#141414" stroke-width="0.4" stroke-linejoin="round" fill="#141414" text-anchor="middle" textLength="21.41" lengthAdjust="spacingAndGlyphs">5-Yr</text>
<text x="637.90" y="453.20" font-size="14.2" font-weight="700" stroke="#141414" stroke-width="0.4" stroke-linejoin="round" fill="#141414" text-anchor="middle" textLength="27.53" lengthAdjust="spacingAndGlyphs">10-Yr</text>
<text x="699.25" y="453.20" font-size="14.2" font-weight="700" stroke="#141414" stroke-width="0.4" stroke-linejoin="round" fill="#141414" text-anchor="middle" textLength="24.48" lengthAdjust="spacingAndGlyphs">2021</text>
<text x="750.00" y="453.20" font-size="14.2" font-weight="700" stroke="#141414" stroke-width="0.4" stroke-linejoin="round" fill="#141414" text-anchor="middle" textLength="24.48" lengthAdjust="spacingAndGlyphs">2020</text>
<text x="800.80" y="453.20" font-size="14.2" font-weight="700" stroke="#141414" stroke-width="0.4" stroke-linejoin="round" fill="#141414" text-anchor="middle" textLength="24.48" lengthAdjust="spacingAndGlyphs">2019</text>
<text x="851.65" y="453.20" font-size="14.2" font-weight="700" stroke="#141414" stroke-width="0.4" stroke-linejoin="round" fill="#141414" text-anchor="middle" textLength="24.48" lengthAdjust="spacingAndGlyphs">2018</text>
<text x="902.50" y="453.20" font-size="14.2" font-weight="700" stroke="#141414" stroke-width="0.4" stroke-linejoin="round" fill="#141414" text-anchor="middle" textLength="24.48" lengthAdjust="spacingAndGlyphs">2017</text>
<rect x="306.70" y="455.70" width="51.50" height="16.45" fill="url(#g0)"/>
<rect x="357.90" y="455.70" width="51.40" height="16.45" fill="url(#g1)"/>
<rect x="409.00" y="455.70" width="51.30" height="16.45" fill="url(#g2)"/>
<rect x="460.00" y="455.70" width="51.10" height="16.45" fill="url(#g3)"/>
<rect x="510.80" y="455.70" width="51.20" height="16.45" fill="url(#g4)"/>
<rect x="561.70" y="455.70" width="51.10" height="16.45" fill="url(#g4)"/>
<rect x="612.50" y="455.70" width="50.90" height="16.45" fill="url(#g4)"/>
<rect x="673.40" y="455.70" width="51.20" height="16.45" fill="url(#g4)"/>
<rect x="724.30" y="455.70" width="50.90" height="16.45" fill="url(#g16)"/>
<rect x="774.90" y="455.70" width="51.30" height="16.45" fill="url(#g27)"/>
<rect x="825.90" y="455.70" width="51.00" height="16.45" fill="url(#g28)"/>
<rect x="876.60" y="455.70" width="51.30" height="16.45" fill="url(#g29)"/>
<line x1="306.7" x2="663.1" y1="472.10" y2="472.10" stroke="#9a8f8a" stroke-opacity="0.28" stroke-width="1"/>
<line x1="673.4" x2="927.6" y1="472.10" y2="472.10" stroke="#9a8f8a" stroke-opacity="0.28" stroke-width="1"/>
<line x1="10" x2="306.7" y1="472.10" y2="472.10" stroke="#c4c4c4" stroke-width="1"/>
<text x="10.30" y="470.20" font-size="14" fill="#48484a" text-anchor="start" textLength="99.50" lengthAdjust="spacingAndGlyphs" word-spacing="1">U.S. Large Cap Stocks</text>
<text x="197.90" y="470.20" font-size="14" fill="#48484a" text-anchor="start" textLength="55.90" lengthAdjust="spacingAndGlyphs" word-spacing="1">S&amp;P 500 TR</text>
<text x="333.00" y="470.20" font-size="14" fill="#262626" text-anchor="middle" textLength="17.73" lengthAdjust="spacingAndGlyphs" fill-opacity="0.74">-8.3</text>
<text x="384.15" y="470.20" font-size="14" fill="#262626" text-anchor="middle" textLength="23.45" lengthAdjust="spacingAndGlyphs" fill-opacity="0.74">-16.1</text>
<text x="435.20" y="470.20" font-size="14" fill="#262626" text-anchor="middle" textLength="23.45" lengthAdjust="spacingAndGlyphs" fill-opacity="0.74">-20.0</text>
<text x="486.10" y="470.20" font-size="14" fill="#262626" text-anchor="middle" textLength="23.45" lengthAdjust="spacingAndGlyphs" fill-opacity="0.74">-10.6</text>
<text x="536.35" y="470.20" font-size="14" fill="#262626" text-anchor="middle" textLength="20.03" lengthAdjust="spacingAndGlyphs" fill-opacity="0.74">10.6</text>
<text x="587.20" y="470.20" font-size="14" fill="#262626" text-anchor="middle" textLength="19.26" lengthAdjust="spacingAndGlyphs" fill-opacity="0.74">11.3</text>
<text x="637.90" y="470.20" font-size="14" fill="#262626" text-anchor="middle" textLength="20.03" lengthAdjust="spacingAndGlyphs" fill-opacity="0.74">13.0</text>
<text x="699.05" y="470.20" font-size="14" fill="#262626" text-anchor="middle" textLength="20.03" lengthAdjust="spacingAndGlyphs" fill-opacity="0.74">28.7</text>
<text x="749.80" y="470.20" font-size="14" fill="#262626" text-anchor="middle" textLength="20.03" lengthAdjust="spacingAndGlyphs" fill-opacity="0.74">18.4</text>
<text x="800.60" y="470.20" font-size="14" fill="#262626" text-anchor="middle" textLength="20.03" lengthAdjust="spacingAndGlyphs" fill-opacity="0.74">31.5</text>
<text x="851.95" y="470.20" font-size="14" fill="#262626" text-anchor="middle" textLength="17.73" lengthAdjust="spacingAndGlyphs" fill-opacity="0.74">-4.4</text>
<text x="902.30" y="470.20" font-size="14" fill="#262626" text-anchor="middle" textLength="20.03" lengthAdjust="spacingAndGlyphs" fill-opacity="0.74">21.8</text>
<rect x="306.70" y="472.10" width="51.50" height="16.45" fill="url(#g5)"/>
<rect x="357.90" y="472.10" width="51.40" height="16.45" fill="url(#g6)"/>
<rect x="409.00" y="472.10" width="51.30" height="16.45" fill="url(#g7)"/>
<rect x="460.00" y="472.10" width="51.10" height="16.45" fill="url(#g8)"/>
<rect x="510.80" y="472.10" width="51.20" height="16.45" fill="url(#g9)"/>
<rect x="561.70" y="472.10" width="51.10" height="16.45" fill="url(#g10)"/>
<rect x="612.50" y="472.10" width="50.90" height="16.45" fill="url(#g4)"/>
<rect x="673.40" y="472.10" width="51.20" height="16.45" fill="url(#g30)"/>
<rect x="724.30" y="472.10" width="50.90" height="16.45" fill="url(#g25)"/>
<rect x="774.90" y="472.10" width="51.30" height="16.45" fill="url(#g31)"/>
<rect x="825.90" y="472.10" width="51.00" height="16.45" fill="url(#g8)"/>
<rect x="876.60" y="472.10" width="51.30" height="16.45" fill="url(#g32)"/>
<line x1="306.7" x2="663.1" y1="488.50" y2="488.50" stroke="#9a8f8a" stroke-opacity="0.28" stroke-width="1"/>
<line x1="673.4" x2="927.6" y1="488.50" y2="488.50" stroke="#9a8f8a" stroke-opacity="0.28" stroke-width="1"/>
<line x1="10" x2="306.7" y1="488.50" y2="488.50" stroke="#c4c4c4" stroke-width="1"/>
<text x="10.30" y="486.60" font-size="14" fill="#48484a" text-anchor="start" textLength="99.50" lengthAdjust="spacingAndGlyphs" word-spacing="1">U.S. Small Cap Stocks</text>
<text x="197.90" y="486.60" font-size="14" fill="#48484a" text-anchor="start" textLength="72.20" lengthAdjust="spacingAndGlyphs" word-spacing="1">Russell 2000 TR</text>
<text x="333.00" y="486.60" font-size="14" fill="#262626" text-anchor="middle" textLength="17.73" lengthAdjust="spacingAndGlyphs" fill-opacity="0.74">-8.4</text>
<text x="384.15" y="486.60" font-size="14" fill="#262626" text-anchor="middle" textLength="23.45" lengthAdjust="spacingAndGlyphs" fill-opacity="0.74">-17.3</text>
<text x="435.20" y="486.60" font-size="14" fill="#262626" text-anchor="middle" textLength="23.45" lengthAdjust="spacingAndGlyphs" fill-opacity="0.74">-23.5</text>
<text x="486.10" y="486.60" font-size="14" fill="#262626" text-anchor="middle" textLength="23.45" lengthAdjust="spacingAndGlyphs" fill-opacity="0.74">-25.4</text>
<text x="536.35" y="486.60" font-size="14" fill="#262626" text-anchor="middle" textLength="14.30" lengthAdjust="spacingAndGlyphs" fill-opacity="0.74">4.1</text>
<text x="587.20" y="486.60" font-size="14" fill="#262626" text-anchor="middle" textLength="14.30" lengthAdjust="spacingAndGlyphs" fill-opacity="0.74">5.1</text>
<text x="637.90" y="486.60" font-size="14" fill="#262626" text-anchor="middle" textLength="14.30" lengthAdjust="spacingAndGlyphs" fill-opacity="0.74">9.3</text>
<text x="699.05" y="486.60" font-size="14" fill="#262626" text-anchor="middle" textLength="20.03" lengthAdjust="spacingAndGlyphs" fill-opacity="0.74">14.5</text>
<text x="749.80" y="486.60" font-size="14" fill="#262626" text-anchor="middle" textLength="20.03" lengthAdjust="spacingAndGlyphs" fill-opacity="0.74">20.0</text>
<text x="800.60" y="486.60" font-size="14" fill="#262626" text-anchor="middle" textLength="20.03" lengthAdjust="spacingAndGlyphs" fill-opacity="0.74">25.4</text>
<text x="851.95" y="486.60" font-size="14" fill="#262626" text-anchor="middle" textLength="22.69" lengthAdjust="spacingAndGlyphs" fill-opacity="0.74">-11.1</text>
<text x="902.30" y="486.60" font-size="14" fill="#262626" text-anchor="middle" textLength="20.03" lengthAdjust="spacingAndGlyphs" fill-opacity="0.74">14.6</text>
<rect x="306.70" y="488.50" width="51.50" height="16.45" fill="url(#g3)"/>
<rect x="357.90" y="488.50" width="51.40" height="16.45" fill="url(#g11)"/>
<rect x="409.00" y="488.50" width="51.30" height="16.45" fill="url(#g12)"/>
<rect x="460.00" y="488.50" width="51.10" height="16.45" fill="url(#g13)"/>
<rect x="510.80" y="488.50" width="51.20" height="16.45" fill="url(#g14)"/>
<rect x="561.70" y="488.50" width="51.10" height="16.45" fill="url(#g15)"/>
<rect x="612.50" y="488.50" width="50.90" height="16.45" fill="url(#g16)"/>
<rect x="673.40" y="488.50" width="51.20" height="16.45" fill="url(#g33)"/>
<rect x="724.30" y="488.50" width="50.90" height="16.45" fill="url(#g34)"/>
<rect x="774.90" y="488.50" width="51.30" height="16.45" fill="url(#g29)"/>
<rect x="825.90" y="488.50" width="51.00" height="16.45" fill="url(#g8)"/>
<rect x="876.60" y="488.50" width="51.30" height="16.45" fill="url(#g35)"/>
<line x1="306.7" x2="663.1" y1="504.90" y2="504.90" stroke="#9a8f8a" stroke-opacity="0.28" stroke-width="1"/>
<line x1="673.4" x2="927.6" y1="504.90" y2="504.90" stroke="#9a8f8a" stroke-opacity="0.28" stroke-width="1"/>
<line x1="10" x2="306.7" y1="504.90" y2="504.90" stroke="#c4c4c4" stroke-width="1"/>
<text x="10.30" y="503.00" font-size="14" fill="#48484a" text-anchor="start" textLength="66.50" lengthAdjust="spacingAndGlyphs" word-spacing="1">Intl Dev Stocks</text>
<text x="197.90" y="503.00" font-size="14" fill="#48484a" text-anchor="start" textLength="67.90" lengthAdjust="spacingAndGlyphs" word-spacing="1">MSCI EAFE GR</text>
<text x="333.00" y="503.00" font-size="14" fill="#262626" text-anchor="middle" textLength="17.73" lengthAdjust="spacingAndGlyphs" fill-opacity="0.74">-9.3</text>
<text x="384.15" y="503.00" font-size="14" fill="#262626" text-anchor="middle" textLength="23.45" lengthAdjust="spacingAndGlyphs" fill-opacity="0.74">-14.5</text>
<text x="435.20" y="503.00" font-size="14" fill="#262626" text-anchor="middle" textLength="23.45" lengthAdjust="spacingAndGlyphs" fill-opacity="0.74">-19.6</text>
<text x="486.10" y="503.00" font-size="14" fill="#262626" text-anchor="middle" textLength="23.45" lengthAdjust="spacingAndGlyphs" fill-opacity="0.74">-17.8</text>
<text x="536.35" y="503.00" font-size="14" fill="#262626" text-anchor="middle" textLength="14.30" lengthAdjust="spacingAndGlyphs" fill-opacity="0.74">1.1</text>
<text x="587.20" y="503.00" font-size="14" fill="#262626" text-anchor="middle" textLength="14.30" lengthAdjust="spacingAndGlyphs" fill-opacity="0.74">2.2</text>
<text x="637.90" y="503.00" font-size="14" fill="#262626" text-anchor="middle" textLength="14.30" lengthAdjust="spacingAndGlyphs" fill-opacity="0.74">5.4</text>
<text x="699.05" y="503.00" font-size="14" fill="#262626" text-anchor="middle" textLength="19.26" lengthAdjust="spacingAndGlyphs" fill-opacity="0.74">11.3</text>
<text x="749.80" y="503.00" font-size="14" fill="#262626" text-anchor="middle" textLength="14.30" lengthAdjust="spacingAndGlyphs" fill-opacity="0.74">7.8</text>
<text x="800.60" y="503.00" font-size="14" fill="#262626" text-anchor="middle" textLength="20.03" lengthAdjust="spacingAndGlyphs" fill-opacity="0.74">22.0</text>
<text x="851.95" y="503.00" font-size="14" fill="#262626" text-anchor="middle" textLength="23.45" lengthAdjust="spacingAndGlyphs" fill-opacity="0.74">-13.8</text>
<text x="902.30" y="503.00" font-size="14" fill="#262626" text-anchor="middle" textLength="20.03" lengthAdjust="spacingAndGlyphs" fill-opacity="0.74">25.0</text>
<rect x="306.70" y="504.90" width="51.50" height="16.45" fill="url(#g17)"/>
<rect x="357.90" y="504.90" width="51.40" height="16.45" fill="url(#g18)"/>
<rect x="409.00" y="504.90" width="51.30" height="16.45" fill="url(#g19)"/>
<rect x="460.00" y="504.90" width="51.10" height="16.45" fill="url(#g8)"/>
<rect x="510.80" y="504.90" width="51.20" height="16.45" fill="url(#g20)"/>
<rect x="561.70" y="504.90" width="51.10" height="16.45" fill="url(#g15)"/>
<rect x="612.50" y="504.90" width="50.90" height="16.45" fill="url(#g21)"/>
<rect x="673.40" y="504.90" width="51.20" height="16.45" fill="url(#g36)"/>
<rect x="724.30" y="504.90" width="50.90" height="16.45" fill="url(#g16)"/>
<rect x="774.90" y="504.90" width="51.30" height="16.45" fill="url(#g16)"/>
<rect x="825.90" y="504.90" width="51.00" height="16.45" fill="url(#g37)"/>
<rect x="876.60" y="504.90" width="51.30" height="16.45" fill="url(#g4)"/>
<line x1="306.7" x2="663.1" y1="521.30" y2="521.30" stroke="#9a8f8a" stroke-opacity="0.28" stroke-width="1"/>
<line x1="673.4" x2="927.6" y1="521.30" y2="521.30" stroke="#9a8f8a" stroke-opacity="0.28" stroke-width="1"/>
<line x1="10" x2="306.7" y1="521.30" y2="521.30" stroke="#c4c4c4" stroke-width="1"/>
<text x="10.30" y="519.40" font-size="14" fill="#48484a" text-anchor="start" textLength="142.20" lengthAdjust="spacingAndGlyphs" word-spacing="1">Emerging &amp; Frontier Mkt Stocks</text>
<text x="197.90" y="519.40" font-size="14" fill="#48484a" text-anchor="start" textLength="59.60" lengthAdjust="spacingAndGlyphs" word-spacing="1">MSCI EM GR</text>
<text x="333.00" y="519.40" font-size="14" fill="#262626" text-anchor="middle" textLength="17.73" lengthAdjust="spacingAndGlyphs" fill-opacity="0.74">-6.6</text>
<text x="384.15" y="519.40" font-size="14" fill="#262626" text-anchor="middle" textLength="22.69" lengthAdjust="spacingAndGlyphs" fill-opacity="0.74">-11.4</text>
<text x="435.20" y="519.40" font-size="14" fill="#262626" text-anchor="middle" textLength="23.45" lengthAdjust="spacingAndGlyphs" fill-opacity="0.74">-17.6</text>
<text x="486.10" y="519.40" font-size="14" fill="#262626" text-anchor="middle" textLength="23.45" lengthAdjust="spacingAndGlyphs" fill-opacity="0.74">-25.3</text>
<text x="536.35" y="519.40" font-size="14" fill="#262626" text-anchor="middle" textLength="14.30" lengthAdjust="spacingAndGlyphs" fill-opacity="0.74">0.6</text>
<text x="587.20" y="519.40" font-size="14" fill="#262626" text-anchor="middle" textLength="14.30" lengthAdjust="spacingAndGlyphs" fill-opacity="0.74">2.2</text>
<text x="637.90" y="519.40" font-size="14" fill="#262626" text-anchor="middle" textLength="14.30" lengthAdjust="spacingAndGlyphs" fill-opacity="0.74">3.1</text>
<text x="699.55" y="519.40" font-size="14" fill="#262626" text-anchor="middle" textLength="17.73" lengthAdjust="spacingAndGlyphs" fill-opacity="0.74">-2.5</text>
<text x="749.80" y="519.40" font-size="14" fill="#262626" text-anchor="middle" textLength="20.03" lengthAdjust="spacingAndGlyphs" fill-opacity="0.74">18.3</text>
<text x="800.60" y="519.40" font-size="14" fill="#262626" text-anchor="middle" textLength="20.03" lengthAdjust="spacingAndGlyphs" fill-opacity="0.74">18.4</text>
<text x="851.95" y="519.40" font-size="14" fill="#262626" text-anchor="middle" textLength="23.45" lengthAdjust="spacingAndGlyphs" fill-opacity="0.74">-14.6</text>
<text x="902.30" y="519.40" font-size="14" fill="#262626" text-anchor="middle" textLength="20.03" lengthAdjust="spacingAndGlyphs" fill-opacity="0.74">37.3</text>
<rect x="306.70" y="521.30" width="51.50" height="16.45" fill="url(#g5)"/>
<rect x="357.90" y="521.30" width="51.40" height="16.45" fill="url(#g22)"/>
<rect x="409.00" y="521.30" width="51.30" height="16.45" fill="url(#g23)"/>
<rect x="460.00" y="521.30" width="51.10" height="16.45" fill="url(#g24)"/>
<rect x="510.80" y="521.30" width="51.20" height="16.45" fill="url(#g25)"/>
<rect x="561.70" y="521.30" width="51.10" height="16.45" fill="url(#g26)"/>
<rect x="612.50" y="521.30" width="50.90" height="16.45" fill="url(#g27)"/>
<rect x="673.40" y="521.30" width="51.20" height="16.45" fill="url(#g38)"/>
<rect x="724.30" y="521.30" width="50.90" height="16.45" fill="url(#g39)"/>
<rect x="774.90" y="521.30" width="51.30" height="16.45" fill="url(#g40)"/>
<rect x="825.90" y="521.30" width="51.00" height="16.45" fill="url(#g41)"/>
<rect x="876.60" y="521.30" width="51.30" height="16.45" fill="url(#g42)"/>
<line x1="10" x2="306.7" y1="537.70" y2="537.70" stroke="#c4c4c4" stroke-width="1"/>
<text x="10.30" y="535.80" font-size="14" fill="#48484a" text-anchor="start" textLength="60.50" lengthAdjust="spacingAndGlyphs" word-spacing="1">Global Stocks</text>
<text x="197.90" y="535.80" font-size="14" fill="#48484a" text-anchor="start" textLength="69.60" lengthAdjust="spacingAndGlyphs" word-spacing="1">MSCI ACWI GR</text>
<text x="333.00" y="535.80" font-size="14" fill="#262626" text-anchor="middle" textLength="17.73" lengthAdjust="spacingAndGlyphs" fill-opacity="0.74">-8.4</text>
<text x="384.15" y="535.80" font-size="14" fill="#262626" text-anchor="middle" textLength="23.45" lengthAdjust="spacingAndGlyphs" fill-opacity="0.74">-15.7</text>
<text x="435.20" y="535.80" font-size="14" fill="#262626" text-anchor="middle" textLength="23.45" lengthAdjust="spacingAndGlyphs" fill-opacity="0.74">-20.2</text>
<text x="486.10" y="535.80" font-size="14" fill="#262626" text-anchor="middle" textLength="23.45" lengthAdjust="spacingAndGlyphs" fill-opacity="0.74">-15.8</text>
<text x="536.35" y="535.80" font-size="14" fill="#262626" text-anchor="middle" textLength="14.30" lengthAdjust="spacingAndGlyphs" fill-opacity="0.74">6.2</text>
<text x="587.20" y="535.80" font-size="14" fill="#262626" text-anchor="middle" textLength="14.30" lengthAdjust="spacingAndGlyphs" fill-opacity="0.74">7.0</text>
<text x="637.90" y="535.80" font-size="14" fill="#262626" text-anchor="middle" textLength="14.30" lengthAdjust="spacingAndGlyphs" fill-opacity="0.74">8.8</text>
<text x="699.05" y="535.80" font-size="14" fill="#262626" text-anchor="middle" textLength="20.03" lengthAdjust="spacingAndGlyphs" fill-opacity="0.74">18.5</text>
<text x="749.80" y="535.80" font-size="14" fill="#262626" text-anchor="middle" textLength="20.03" lengthAdjust="spacingAndGlyphs" fill-opacity="0.74">16.3</text>
<text x="800.60" y="535.80" font-size="14" fill="#262626" text-anchor="middle" textLength="20.03" lengthAdjust="spacingAndGlyphs" fill-opacity="0.74">26.6</text>
<text x="851.95" y="535.80" font-size="14" fill="#262626" text-anchor="middle" textLength="17.73" lengthAdjust="spacingAndGlyphs" fill-opacity="0.74">-9.4</text>
<text x="902.30" y="535.80" font-size="14" fill="#262626" text-anchor="middle" textLength="20.03" lengthAdjust="spacingAndGlyphs" fill-opacity="0.74">24.0</text>
<line x1="10" x2="663.1" y1="455.5" y2="455.5" stroke="#1a1a1a" stroke-width="1.3"/>
<line x1="673.4" x2="927.6" y1="455.5" y2="455.5" stroke="#1a1a1a" stroke-width="1.3"/>
<text x="8.80" y="557.90" font-size="11.5" fill="#8c8c8c" text-anchor="start" textLength="76.00" lengthAdjust="spacingAndGlyphs" word-spacing="0.6">Source: Bloomberg</text>
<text x="697.30" y="554.90" font-size="11.5" fill="#8c8c8c" text-anchor="start" textLength="232.00" lengthAdjust="spacingAndGlyphs" word-spacing="0.6">© 2022 Magnus Financial Group LLC. All Rights Reserved</text>
</svg>
</body></html>
